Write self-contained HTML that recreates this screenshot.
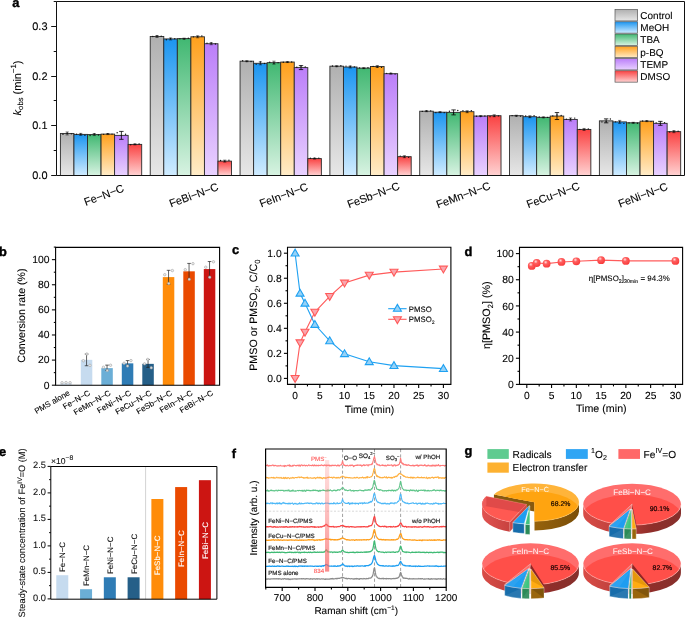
<!DOCTYPE html>
<html lang="en">
<head>
<meta charset="utf-8">
<title>Figure</title>
<style>
html,body{margin:0;padding:0;background:#fff;}
body{width:685px;height:617px;overflow:hidden;}
svg{display:block;font-family:'Liberation Sans', sans-serif;text-rendering:geometricPrecision;}
</style>
</head>
<body>
<svg width="685" height="617" viewBox="0 0 685 617">
<defs>
<linearGradient id="g_gray" x1="0" y1="0" x2="0" y2="1"><stop offset="0" stop-color="#b0b0b0"/><stop offset="1" stop-color="#e7e7e7"/></linearGradient>
<linearGradient id="g_blue" x1="0" y1="0" x2="0" y2="1"><stop offset="0" stop-color="#1b95f0"/><stop offset="1" stop-color="#d0ecff"/></linearGradient>
<linearGradient id="g_green" x1="0" y1="0" x2="0" y2="1"><stop offset="0" stop-color="#41b872"/><stop offset="1" stop-color="#d8f3e2"/></linearGradient>
<linearGradient id="g_orange" x1="0" y1="0" x2="0" y2="1"><stop offset="0" stop-color="#ffa01c"/><stop offset="1" stop-color="#ffecc8"/></linearGradient>
<linearGradient id="g_purple" x1="0" y1="0" x2="0" y2="1"><stop offset="0" stop-color="#bb7ef9"/><stop offset="1" stop-color="#e9d2ff"/></linearGradient>
<linearGradient id="g_red" x1="0" y1="0" x2="0" y2="1"><stop offset="0" stop-color="#fa4242"/><stop offset="1" stop-color="#ffd2d2"/></linearGradient>
<linearGradient id="g_band" x1="0" y1="0" x2="0" y2="1"><stop offset="0" stop-color="#ff8a8a" stop-opacity="0.25"/><stop offset="1" stop-color="#f76060" stop-opacity="0.72"/></linearGradient>
<radialGradient id="g_ball" cx="0.38" cy="0.32" r="0.7"><stop offset="0" stop-color="#ffdcdc"/><stop offset="0.12" stop-color="#ffb4b4"/><stop offset="0.35" stop-color="#ff5e5e"/><stop offset="1" stop-color="#f83a3a"/></radialGradient>
</defs>
<rect x="60.4" y="133.44" width="13.55" height="42.06" fill="url(#g_gray)" stroke="#2b2b2b" stroke-width="0.9"/>
<rect x="73.95" y="134.38" width="13.55" height="41.12" fill="url(#g_blue)" stroke="#2b2b2b" stroke-width="0.9"/>
<rect x="87.5" y="134.58" width="13.55" height="40.92" fill="url(#g_green)" stroke="#2b2b2b" stroke-width="0.9"/>
<rect x="101.05" y="134.09" width="13.55" height="41.41" fill="url(#g_orange)" stroke="#2b2b2b" stroke-width="0.9"/>
<rect x="114.6" y="135.37" width="13.55" height="40.13" fill="url(#g_purple)" stroke="#2b2b2b" stroke-width="0.9"/>
<rect x="128.15" y="144.39" width="13.55" height="31.11" fill="url(#g_red)" stroke="#2b2b2b" stroke-width="0.9"/>
<line x1="67.17" y1="131.96" x2="67.17" y2="134.93" stroke="#000" stroke-width="0.6"/>
<line x1="65.58" y1="131.96" x2="68.77" y2="131.96" stroke="#000" stroke-width="0.5"/>
<line x1="65.58" y1="134.93" x2="68.77" y2="134.93" stroke="#000" stroke-width="0.5"/>
<circle cx="62.97" cy="134.22" r="0.7" fill="#111"/>
<circle cx="67.17" cy="133.31" r="0.7" fill="#111"/>
<circle cx="71.38" cy="133.83" r="0.7" fill="#111"/>
<line x1="80.73" y1="133.39" x2="80.73" y2="135.37" stroke="#000" stroke-width="0.6"/>
<line x1="79.13" y1="133.39" x2="82.33" y2="133.39" stroke="#000" stroke-width="0.5"/>
<line x1="79.13" y1="135.37" x2="82.33" y2="135.37" stroke="#000" stroke-width="0.5"/>
<circle cx="76.53" cy="134.18" r="0.7" fill="#111"/>
<circle cx="80.73" cy="134.13" r="0.7" fill="#111"/>
<circle cx="84.93" cy="135.24" r="0.7" fill="#111"/>
<line x1="94.28" y1="133.59" x2="94.28" y2="135.57" stroke="#000" stroke-width="0.6"/>
<line x1="92.68" y1="133.59" x2="95.88" y2="133.59" stroke="#000" stroke-width="0.5"/>
<line x1="92.68" y1="135.57" x2="95.88" y2="135.57" stroke="#000" stroke-width="0.5"/>
<circle cx="90.08" cy="135.55" r="0.7" fill="#111"/>
<circle cx="94.28" cy="133.91" r="0.7" fill="#111"/>
<circle cx="98.48" cy="135.06" r="0.7" fill="#111"/>
<line x1="107.83" y1="133.59" x2="107.83" y2="134.58" stroke="#000" stroke-width="0.6"/>
<line x1="106.23" y1="133.59" x2="109.43" y2="133.59" stroke="#000" stroke-width="0.5"/>
<line x1="106.23" y1="134.58" x2="109.43" y2="134.58" stroke="#000" stroke-width="0.5"/>
<circle cx="103.63" cy="134.35" r="0.7" fill="#111"/>
<circle cx="107.83" cy="133.59" r="0.7" fill="#111"/>
<circle cx="112.03" cy="134.11" r="0.7" fill="#111"/>
<line x1="121.38" y1="131.41" x2="121.38" y2="139.34" stroke="#000" stroke-width="0.8"/>
<line x1="119.17" y1="131.41" x2="123.58" y2="131.41" stroke="#000" stroke-width="0.8"/>
<line x1="119.17" y1="139.34" x2="123.58" y2="139.34" stroke="#000" stroke-width="0.8"/>
<circle cx="117.17" cy="132.71" r="0.7" fill="#111"/>
<circle cx="121.38" cy="135.56" r="0.7" fill="#111"/>
<circle cx="125.58" cy="134.27" r="0.7" fill="#111"/>
<line x1="134.93" y1="143.89" x2="134.93" y2="144.88" stroke="#000" stroke-width="0.6"/>
<line x1="133.33" y1="143.89" x2="136.53" y2="143.89" stroke="#000" stroke-width="0.5"/>
<line x1="133.33" y1="144.88" x2="136.53" y2="144.88" stroke="#000" stroke-width="0.5"/>
<circle cx="130.73" cy="144.73" r="0.7" fill="#111"/>
<circle cx="134.93" cy="144.25" r="0.7" fill="#111"/>
<circle cx="139.12" cy="144.02" r="0.7" fill="#111"/>
<rect x="150.23" y="36.5" width="13.55" height="139" fill="url(#g_gray)" stroke="#2b2b2b" stroke-width="0.9"/>
<rect x="163.78" y="38.93" width="13.55" height="136.57" fill="url(#g_blue)" stroke="#2b2b2b" stroke-width="0.9"/>
<rect x="177.33" y="38.63" width="13.55" height="136.87" fill="url(#g_green)" stroke="#2b2b2b" stroke-width="0.9"/>
<rect x="190.88" y="36.8" width="13.55" height="138.7" fill="url(#g_orange)" stroke="#2b2b2b" stroke-width="0.9"/>
<rect x="204.43" y="43.74" width="13.55" height="131.76" fill="url(#g_purple)" stroke="#2b2b2b" stroke-width="0.9"/>
<rect x="217.98" y="161.13" width="13.55" height="14.37" fill="url(#g_red)" stroke="#2b2b2b" stroke-width="0.9"/>
<line x1="157" y1="35.51" x2="157" y2="37.5" stroke="#000" stroke-width="0.6"/>
<line x1="155.41" y1="35.51" x2="158.6" y2="35.51" stroke="#000" stroke-width="0.5"/>
<line x1="155.41" y1="37.5" x2="158.6" y2="37.5" stroke="#000" stroke-width="0.5"/>
<circle cx="152.81" cy="36.46" r="0.7" fill="#111"/>
<circle cx="157" cy="36.03" r="0.7" fill="#111"/>
<circle cx="161.2" cy="36.17" r="0.7" fill="#111"/>
<line x1="170.56" y1="37.94" x2="170.56" y2="39.92" stroke="#000" stroke-width="0.6"/>
<line x1="168.96" y1="37.94" x2="172.16" y2="37.94" stroke="#000" stroke-width="0.5"/>
<line x1="168.96" y1="39.92" x2="172.16" y2="39.92" stroke="#000" stroke-width="0.5"/>
<circle cx="166.36" cy="39.8" r="0.7" fill="#111"/>
<circle cx="170.56" cy="38.42" r="0.7" fill="#111"/>
<circle cx="174.75" cy="38.75" r="0.7" fill="#111"/>
<line x1="184.1" y1="38.14" x2="184.1" y2="39.13" stroke="#000" stroke-width="0.6"/>
<line x1="182.5" y1="38.14" x2="185.7" y2="38.14" stroke="#000" stroke-width="0.5"/>
<line x1="182.5" y1="39.13" x2="185.7" y2="39.13" stroke="#000" stroke-width="0.5"/>
<circle cx="179.91" cy="38.83" r="0.7" fill="#111"/>
<circle cx="184.1" cy="39.1" r="0.7" fill="#111"/>
<circle cx="188.3" cy="38.27" r="0.7" fill="#111"/>
<line x1="197.66" y1="35.81" x2="197.66" y2="37.79" stroke="#000" stroke-width="0.6"/>
<line x1="196.06" y1="35.81" x2="199.25" y2="35.81" stroke="#000" stroke-width="0.5"/>
<line x1="196.06" y1="37.79" x2="199.25" y2="37.79" stroke="#000" stroke-width="0.5"/>
<circle cx="193.46" cy="36.86" r="0.7" fill="#111"/>
<circle cx="197.66" cy="36.37" r="0.7" fill="#111"/>
<circle cx="201.85" cy="36.05" r="0.7" fill="#111"/>
<line x1="211.21" y1="42.75" x2="211.21" y2="44.73" stroke="#000" stroke-width="0.6"/>
<line x1="209.61" y1="42.75" x2="212.81" y2="42.75" stroke="#000" stroke-width="0.5"/>
<line x1="209.61" y1="44.73" x2="212.81" y2="44.73" stroke="#000" stroke-width="0.5"/>
<circle cx="207.01" cy="43.31" r="0.7" fill="#111"/>
<circle cx="211.21" cy="42.9" r="0.7" fill="#111"/>
<circle cx="215.41" cy="43.94" r="0.7" fill="#111"/>
<line x1="224.75" y1="160.14" x2="224.75" y2="162.12" stroke="#000" stroke-width="0.6"/>
<line x1="223.16" y1="160.14" x2="226.35" y2="160.14" stroke="#000" stroke-width="0.5"/>
<line x1="223.16" y1="162.12" x2="226.35" y2="162.12" stroke="#000" stroke-width="0.5"/>
<circle cx="220.56" cy="160.53" r="0.7" fill="#111"/>
<circle cx="224.75" cy="161.24" r="0.7" fill="#111"/>
<circle cx="228.95" cy="160.27" r="0.7" fill="#111"/>
<rect x="240.06" y="61.17" width="13.55" height="114.33" fill="url(#g_gray)" stroke="#2b2b2b" stroke-width="0.9"/>
<rect x="253.61" y="63.3" width="13.55" height="112.2" fill="url(#g_blue)" stroke="#2b2b2b" stroke-width="0.9"/>
<rect x="267.16" y="62.66" width="13.55" height="112.84" fill="url(#g_green)" stroke="#2b2b2b" stroke-width="0.9"/>
<rect x="280.71" y="62.06" width="13.55" height="113.44" fill="url(#g_orange)" stroke="#2b2b2b" stroke-width="0.9"/>
<rect x="294.26" y="67.61" width="13.55" height="107.89" fill="url(#g_purple)" stroke="#2b2b2b" stroke-width="0.9"/>
<rect x="307.81" y="158.6" width="13.55" height="16.9" fill="url(#g_red)" stroke="#2b2b2b" stroke-width="0.9"/>
<line x1="246.84" y1="60.68" x2="246.84" y2="61.67" stroke="#000" stroke-width="0.6"/>
<line x1="245.24" y1="60.68" x2="248.44" y2="60.68" stroke="#000" stroke-width="0.5"/>
<line x1="245.24" y1="61.67" x2="248.44" y2="61.67" stroke="#000" stroke-width="0.5"/>
<circle cx="242.64" cy="60.8" r="0.7" fill="#111"/>
<circle cx="246.84" cy="61.57" r="0.7" fill="#111"/>
<circle cx="251.03" cy="61.53" r="0.7" fill="#111"/>
<line x1="260.38" y1="61.82" x2="260.38" y2="64.79" stroke="#000" stroke-width="0.6"/>
<line x1="258.78" y1="61.82" x2="261.99" y2="61.82" stroke="#000" stroke-width="0.5"/>
<line x1="258.78" y1="64.79" x2="261.99" y2="64.79" stroke="#000" stroke-width="0.5"/>
<circle cx="256.19" cy="64.14" r="0.7" fill="#111"/>
<circle cx="260.38" cy="61.92" r="0.7" fill="#111"/>
<circle cx="264.58" cy="63.49" r="0.7" fill="#111"/>
<line x1="273.94" y1="61.17" x2="273.94" y2="64.14" stroke="#000" stroke-width="0.6"/>
<line x1="272.33" y1="61.17" x2="275.54" y2="61.17" stroke="#000" stroke-width="0.5"/>
<line x1="272.33" y1="64.14" x2="275.54" y2="64.14" stroke="#000" stroke-width="0.5"/>
<circle cx="269.74" cy="62.28" r="0.7" fill="#111"/>
<circle cx="273.94" cy="63.25" r="0.7" fill="#111"/>
<circle cx="278.13" cy="62.64" r="0.7" fill="#111"/>
<line x1="287.49" y1="61.57" x2="287.49" y2="62.56" stroke="#000" stroke-width="0.6"/>
<line x1="285.88" y1="61.57" x2="289.09" y2="61.57" stroke="#000" stroke-width="0.5"/>
<line x1="285.88" y1="62.56" x2="289.09" y2="62.56" stroke="#000" stroke-width="0.5"/>
<circle cx="283.29" cy="62.18" r="0.7" fill="#111"/>
<circle cx="287.49" cy="62.21" r="0.7" fill="#111"/>
<circle cx="291.69" cy="61.98" r="0.7" fill="#111"/>
<line x1="301.03" y1="65.63" x2="301.03" y2="69.59" stroke="#000" stroke-width="0.8"/>
<line x1="298.83" y1="65.63" x2="303.23" y2="65.63" stroke="#000" stroke-width="0.8"/>
<line x1="298.83" y1="69.59" x2="303.23" y2="69.59" stroke="#000" stroke-width="0.8"/>
<circle cx="296.83" cy="67.28" r="0.7" fill="#111"/>
<circle cx="301.03" cy="66.01" r="0.7" fill="#111"/>
<circle cx="305.23" cy="66.89" r="0.7" fill="#111"/>
<line x1="314.58" y1="158.11" x2="314.58" y2="159.1" stroke="#000" stroke-width="0.6"/>
<line x1="312.98" y1="158.11" x2="316.19" y2="158.11" stroke="#000" stroke-width="0.5"/>
<line x1="312.98" y1="159.1" x2="316.19" y2="159.1" stroke="#000" stroke-width="0.5"/>
<circle cx="310.38" cy="158.18" r="0.7" fill="#111"/>
<circle cx="314.58" cy="158.25" r="0.7" fill="#111"/>
<circle cx="318.78" cy="158.12" r="0.7" fill="#111"/>
<rect x="329.89" y="66.18" width="13.55" height="109.32" fill="url(#g_gray)" stroke="#2b2b2b" stroke-width="0.9"/>
<rect x="343.44" y="67.02" width="13.55" height="108.48" fill="url(#g_blue)" stroke="#2b2b2b" stroke-width="0.9"/>
<rect x="356.99" y="68.11" width="13.55" height="107.39" fill="url(#g_green)" stroke="#2b2b2b" stroke-width="0.9"/>
<rect x="370.54" y="66.52" width="13.55" height="108.98" fill="url(#g_orange)" stroke="#2b2b2b" stroke-width="0.9"/>
<rect x="384.09" y="73.7" width="13.55" height="101.8" fill="url(#g_purple)" stroke="#2b2b2b" stroke-width="0.9"/>
<rect x="397.64" y="156.67" width="13.55" height="18.83" fill="url(#g_red)" stroke="#2b2b2b" stroke-width="0.9"/>
<line x1="336.66" y1="65.68" x2="336.66" y2="66.67" stroke="#000" stroke-width="0.6"/>
<line x1="335.06" y1="65.68" x2="338.26" y2="65.68" stroke="#000" stroke-width="0.5"/>
<line x1="335.06" y1="66.67" x2="338.26" y2="66.67" stroke="#000" stroke-width="0.5"/>
<circle cx="332.46" cy="66.01" r="0.7" fill="#111"/>
<circle cx="336.66" cy="66.51" r="0.7" fill="#111"/>
<circle cx="340.86" cy="65.82" r="0.7" fill="#111"/>
<line x1="350.21" y1="66.03" x2="350.21" y2="68.01" stroke="#000" stroke-width="0.6"/>
<line x1="348.61" y1="66.03" x2="351.81" y2="66.03" stroke="#000" stroke-width="0.5"/>
<line x1="348.61" y1="68.01" x2="351.81" y2="68.01" stroke="#000" stroke-width="0.5"/>
<circle cx="346.01" cy="66.1" r="0.7" fill="#111"/>
<circle cx="350.21" cy="66.22" r="0.7" fill="#111"/>
<circle cx="354.41" cy="66.88" r="0.7" fill="#111"/>
<line x1="363.76" y1="67.61" x2="363.76" y2="68.6" stroke="#000" stroke-width="0.6"/>
<line x1="362.16" y1="67.61" x2="365.37" y2="67.61" stroke="#000" stroke-width="0.5"/>
<line x1="362.16" y1="68.6" x2="365.37" y2="68.6" stroke="#000" stroke-width="0.5"/>
<circle cx="359.56" cy="67.9" r="0.7" fill="#111"/>
<circle cx="363.76" cy="68.39" r="0.7" fill="#111"/>
<circle cx="367.96" cy="67.78" r="0.7" fill="#111"/>
<line x1="377.31" y1="65.53" x2="377.31" y2="67.51" stroke="#000" stroke-width="0.6"/>
<line x1="375.71" y1="65.53" x2="378.91" y2="65.53" stroke="#000" stroke-width="0.5"/>
<line x1="375.71" y1="67.51" x2="378.91" y2="67.51" stroke="#000" stroke-width="0.5"/>
<circle cx="373.11" cy="66.38" r="0.7" fill="#111"/>
<circle cx="377.31" cy="66.95" r="0.7" fill="#111"/>
<circle cx="381.51" cy="67.39" r="0.7" fill="#111"/>
<line x1="390.86" y1="73.21" x2="390.86" y2="74.2" stroke="#000" stroke-width="0.6"/>
<line x1="389.26" y1="73.21" x2="392.46" y2="73.21" stroke="#000" stroke-width="0.5"/>
<line x1="389.26" y1="74.2" x2="392.46" y2="74.2" stroke="#000" stroke-width="0.5"/>
<circle cx="386.66" cy="73.35" r="0.7" fill="#111"/>
<circle cx="390.86" cy="73.22" r="0.7" fill="#111"/>
<circle cx="395.06" cy="74.11" r="0.7" fill="#111"/>
<line x1="404.41" y1="155.68" x2="404.41" y2="157.66" stroke="#000" stroke-width="0.6"/>
<line x1="402.81" y1="155.68" x2="406.01" y2="155.68" stroke="#000" stroke-width="0.5"/>
<line x1="402.81" y1="157.66" x2="406.01" y2="157.66" stroke="#000" stroke-width="0.5"/>
<circle cx="400.21" cy="156.08" r="0.7" fill="#111"/>
<circle cx="404.41" cy="156.85" r="0.7" fill="#111"/>
<circle cx="408.61" cy="157.36" r="0.7" fill="#111"/>
<rect x="419.72" y="111.2" width="13.55" height="64.3" fill="url(#g_gray)" stroke="#2b2b2b" stroke-width="0.9"/>
<rect x="433.27" y="112.19" width="13.55" height="63.31" fill="url(#g_blue)" stroke="#2b2b2b" stroke-width="0.9"/>
<rect x="446.82" y="112.39" width="13.55" height="63.11" fill="url(#g_green)" stroke="#2b2b2b" stroke-width="0.9"/>
<rect x="460.37" y="111.7" width="13.55" height="63.8" fill="url(#g_orange)" stroke="#2b2b2b" stroke-width="0.9"/>
<rect x="473.92" y="116.06" width="13.55" height="59.44" fill="url(#g_purple)" stroke="#2b2b2b" stroke-width="0.9"/>
<rect x="487.47" y="115.71" width="13.55" height="59.79" fill="url(#g_red)" stroke="#2b2b2b" stroke-width="0.9"/>
<line x1="426.49" y1="110.71" x2="426.49" y2="111.7" stroke="#000" stroke-width="0.6"/>
<line x1="424.89" y1="110.71" x2="428.09" y2="110.71" stroke="#000" stroke-width="0.5"/>
<line x1="424.89" y1="111.7" x2="428.09" y2="111.7" stroke="#000" stroke-width="0.5"/>
<circle cx="422.29" cy="111.41" r="0.7" fill="#111"/>
<circle cx="426.49" cy="110.93" r="0.7" fill="#111"/>
<circle cx="430.69" cy="110.83" r="0.7" fill="#111"/>
<line x1="440.04" y1="111.7" x2="440.04" y2="112.69" stroke="#000" stroke-width="0.6"/>
<line x1="438.44" y1="111.7" x2="441.64" y2="111.7" stroke="#000" stroke-width="0.5"/>
<line x1="438.44" y1="112.69" x2="441.64" y2="112.69" stroke="#000" stroke-width="0.5"/>
<circle cx="435.84" cy="112.64" r="0.7" fill="#111"/>
<circle cx="440.04" cy="112.08" r="0.7" fill="#111"/>
<circle cx="444.24" cy="112.64" r="0.7" fill="#111"/>
<line x1="453.59" y1="109.91" x2="453.59" y2="114.87" stroke="#000" stroke-width="0.8"/>
<line x1="451.39" y1="109.91" x2="455.79" y2="109.91" stroke="#000" stroke-width="0.8"/>
<line x1="451.39" y1="114.87" x2="455.79" y2="114.87" stroke="#000" stroke-width="0.8"/>
<circle cx="449.39" cy="111.31" r="0.7" fill="#111"/>
<circle cx="453.59" cy="113.23" r="0.7" fill="#111"/>
<circle cx="457.79" cy="110.5" r="0.7" fill="#111"/>
<line x1="467.14" y1="110.71" x2="467.14" y2="112.69" stroke="#000" stroke-width="0.6"/>
<line x1="465.54" y1="110.71" x2="468.75" y2="110.71" stroke="#000" stroke-width="0.5"/>
<line x1="465.54" y1="112.69" x2="468.75" y2="112.69" stroke="#000" stroke-width="0.5"/>
<circle cx="462.94" cy="110.74" r="0.7" fill="#111"/>
<circle cx="467.14" cy="111.69" r="0.7" fill="#111"/>
<circle cx="471.34" cy="110.71" r="0.7" fill="#111"/>
<line x1="480.69" y1="115.56" x2="480.69" y2="116.55" stroke="#000" stroke-width="0.6"/>
<line x1="479.09" y1="115.56" x2="482.29" y2="115.56" stroke="#000" stroke-width="0.5"/>
<line x1="479.09" y1="116.55" x2="482.29" y2="116.55" stroke="#000" stroke-width="0.5"/>
<circle cx="476.49" cy="116.24" r="0.7" fill="#111"/>
<circle cx="480.69" cy="116.47" r="0.7" fill="#111"/>
<circle cx="484.89" cy="115.96" r="0.7" fill="#111"/>
<line x1="494.24" y1="114.72" x2="494.24" y2="116.7" stroke="#000" stroke-width="0.6"/>
<line x1="492.64" y1="114.72" x2="495.84" y2="114.72" stroke="#000" stroke-width="0.5"/>
<line x1="492.64" y1="116.7" x2="495.84" y2="116.7" stroke="#000" stroke-width="0.5"/>
<circle cx="490.04" cy="116.64" r="0.7" fill="#111"/>
<circle cx="494.24" cy="116.31" r="0.7" fill="#111"/>
<circle cx="498.44" cy="115.89" r="0.7" fill="#111"/>
<rect x="509.55" y="115.71" width="13.55" height="59.79" fill="url(#g_gray)" stroke="#2b2b2b" stroke-width="0.9"/>
<rect x="523.1" y="116.7" width="13.55" height="58.8" fill="url(#g_blue)" stroke="#2b2b2b" stroke-width="0.9"/>
<rect x="536.65" y="117.34" width="13.55" height="58.16" fill="url(#g_green)" stroke="#2b2b2b" stroke-width="0.9"/>
<rect x="550.2" y="116.06" width="13.55" height="59.44" fill="url(#g_orange)" stroke="#2b2b2b" stroke-width="0.9"/>
<rect x="563.75" y="119.42" width="13.55" height="56.08" fill="url(#g_purple)" stroke="#2b2b2b" stroke-width="0.9"/>
<rect x="577.3" y="129.43" width="13.55" height="46.07" fill="url(#g_red)" stroke="#2b2b2b" stroke-width="0.9"/>
<line x1="516.32" y1="115.21" x2="516.32" y2="116.2" stroke="#000" stroke-width="0.6"/>
<line x1="514.72" y1="115.21" x2="517.92" y2="115.21" stroke="#000" stroke-width="0.5"/>
<line x1="514.72" y1="116.2" x2="517.92" y2="116.2" stroke="#000" stroke-width="0.5"/>
<circle cx="512.12" cy="115.6" r="0.7" fill="#111"/>
<circle cx="516.32" cy="116.05" r="0.7" fill="#111"/>
<circle cx="520.52" cy="116.16" r="0.7" fill="#111"/>
<line x1="529.87" y1="115.71" x2="529.87" y2="117.69" stroke="#000" stroke-width="0.6"/>
<line x1="528.27" y1="115.71" x2="531.47" y2="115.71" stroke="#000" stroke-width="0.5"/>
<line x1="528.27" y1="117.69" x2="531.47" y2="117.69" stroke="#000" stroke-width="0.5"/>
<circle cx="525.67" cy="115.97" r="0.7" fill="#111"/>
<circle cx="529.87" cy="117.07" r="0.7" fill="#111"/>
<circle cx="534.07" cy="115.79" r="0.7" fill="#111"/>
<line x1="543.42" y1="116.85" x2="543.42" y2="117.84" stroke="#000" stroke-width="0.6"/>
<line x1="541.82" y1="116.85" x2="545.02" y2="116.85" stroke="#000" stroke-width="0.5"/>
<line x1="541.82" y1="117.84" x2="545.02" y2="117.84" stroke="#000" stroke-width="0.5"/>
<circle cx="539.22" cy="116.95" r="0.7" fill="#111"/>
<circle cx="543.42" cy="117.46" r="0.7" fill="#111"/>
<circle cx="547.62" cy="117.38" r="0.7" fill="#111"/>
<line x1="556.97" y1="112.59" x2="556.97" y2="119.52" stroke="#000" stroke-width="0.8"/>
<line x1="554.77" y1="112.59" x2="559.17" y2="112.59" stroke="#000" stroke-width="0.8"/>
<line x1="554.77" y1="119.52" x2="559.17" y2="119.52" stroke="#000" stroke-width="0.8"/>
<circle cx="552.77" cy="115.92" r="0.7" fill="#111"/>
<circle cx="556.97" cy="115.06" r="0.7" fill="#111"/>
<circle cx="561.17" cy="115.39" r="0.7" fill="#111"/>
<line x1="570.52" y1="117.94" x2="570.52" y2="120.91" stroke="#000" stroke-width="0.6"/>
<line x1="568.92" y1="117.94" x2="572.12" y2="117.94" stroke="#000" stroke-width="0.5"/>
<line x1="568.92" y1="120.91" x2="572.12" y2="120.91" stroke="#000" stroke-width="0.5"/>
<circle cx="566.32" cy="119.25" r="0.7" fill="#111"/>
<circle cx="570.52" cy="119.07" r="0.7" fill="#111"/>
<circle cx="574.73" cy="118.11" r="0.7" fill="#111"/>
<line x1="584.07" y1="128.44" x2="584.07" y2="130.42" stroke="#000" stroke-width="0.6"/>
<line x1="582.47" y1="128.44" x2="585.67" y2="128.44" stroke="#000" stroke-width="0.5"/>
<line x1="582.47" y1="130.42" x2="585.67" y2="130.42" stroke="#000" stroke-width="0.5"/>
<circle cx="579.87" cy="129.42" r="0.7" fill="#111"/>
<circle cx="584.07" cy="129.57" r="0.7" fill="#111"/>
<circle cx="588.27" cy="128.99" r="0.7" fill="#111"/>
<rect x="599.38" y="120.86" width="13.55" height="54.64" fill="url(#g_gray)" stroke="#2b2b2b" stroke-width="0.9"/>
<rect x="612.93" y="121.9" width="13.55" height="53.6" fill="url(#g_blue)" stroke="#2b2b2b" stroke-width="0.9"/>
<rect x="626.48" y="122.79" width="13.55" height="52.71" fill="url(#g_green)" stroke="#2b2b2b" stroke-width="0.9"/>
<rect x="640.03" y="121.16" width="13.55" height="54.34" fill="url(#g_orange)" stroke="#2b2b2b" stroke-width="0.9"/>
<rect x="653.58" y="123.34" width="13.55" height="52.16" fill="url(#g_purple)" stroke="#2b2b2b" stroke-width="0.9"/>
<rect x="667.13" y="131.66" width="13.55" height="43.84" fill="url(#g_red)" stroke="#2b2b2b" stroke-width="0.9"/>
<line x1="606.15" y1="118.88" x2="606.15" y2="122.84" stroke="#000" stroke-width="0.8"/>
<line x1="603.95" y1="118.88" x2="608.36" y2="118.88" stroke="#000" stroke-width="0.8"/>
<line x1="603.95" y1="122.84" x2="608.36" y2="122.84" stroke="#000" stroke-width="0.8"/>
<circle cx="601.95" cy="121.9" r="0.7" fill="#111"/>
<circle cx="606.15" cy="121.65" r="0.7" fill="#111"/>
<circle cx="610.36" cy="118.97" r="0.7" fill="#111"/>
<line x1="619.7" y1="120.41" x2="619.7" y2="123.39" stroke="#000" stroke-width="0.6"/>
<line x1="618.1" y1="120.41" x2="621.3" y2="120.41" stroke="#000" stroke-width="0.5"/>
<line x1="618.1" y1="123.39" x2="621.3" y2="123.39" stroke="#000" stroke-width="0.5"/>
<circle cx="615.5" cy="121.84" r="0.7" fill="#111"/>
<circle cx="619.7" cy="121.76" r="0.7" fill="#111"/>
<circle cx="623.9" cy="123.35" r="0.7" fill="#111"/>
<line x1="633.25" y1="122.3" x2="633.25" y2="123.29" stroke="#000" stroke-width="0.6"/>
<line x1="631.65" y1="122.3" x2="634.86" y2="122.3" stroke="#000" stroke-width="0.5"/>
<line x1="631.65" y1="123.29" x2="634.86" y2="123.29" stroke="#000" stroke-width="0.5"/>
<circle cx="629.05" cy="122.88" r="0.7" fill="#111"/>
<circle cx="633.25" cy="122.71" r="0.7" fill="#111"/>
<circle cx="637.46" cy="123.27" r="0.7" fill="#111"/>
<line x1="646.8" y1="120.66" x2="646.8" y2="121.65" stroke="#000" stroke-width="0.6"/>
<line x1="645.2" y1="120.66" x2="648.4" y2="120.66" stroke="#000" stroke-width="0.5"/>
<line x1="645.2" y1="121.65" x2="648.4" y2="121.65" stroke="#000" stroke-width="0.5"/>
<circle cx="642.6" cy="121.04" r="0.7" fill="#111"/>
<circle cx="646.8" cy="121.03" r="0.7" fill="#111"/>
<circle cx="651" cy="121.59" r="0.7" fill="#111"/>
<line x1="660.36" y1="121.36" x2="660.36" y2="125.32" stroke="#000" stroke-width="0.8"/>
<line x1="658.15" y1="121.36" x2="662.56" y2="121.36" stroke="#000" stroke-width="0.8"/>
<line x1="658.15" y1="125.32" x2="662.56" y2="125.32" stroke="#000" stroke-width="0.8"/>
<circle cx="656.15" cy="122.83" r="0.7" fill="#111"/>
<circle cx="660.36" cy="123.47" r="0.7" fill="#111"/>
<circle cx="664.56" cy="122.63" r="0.7" fill="#111"/>
<line x1="673.9" y1="130.67" x2="673.9" y2="132.65" stroke="#000" stroke-width="0.6"/>
<line x1="672.3" y1="130.67" x2="675.5" y2="130.67" stroke="#000" stroke-width="0.5"/>
<line x1="672.3" y1="132.65" x2="675.5" y2="132.65" stroke="#000" stroke-width="0.5"/>
<circle cx="669.7" cy="131.95" r="0.7" fill="#111"/>
<circle cx="673.9" cy="131.25" r="0.7" fill="#111"/>
<circle cx="678.11" cy="131.19" r="0.7" fill="#111"/>
<path d="M56.5 1.5 H684.5 V175.5 H56.5 Z" fill="none" stroke="#111" stroke-width="1"/>
<line x1="51.2" y1="175.5" x2="56.5" y2="175.5" stroke="#111" stroke-width="1"/>
<text transform="translate(47.5 179.3) skewX(0.06) scale(0.1 0.1)" font-size="110" text-anchor="end" fill="#000" stroke="#000" stroke-width="1">0.0</text>
<line x1="51.2" y1="125.5" x2="56.5" y2="125.5" stroke="#111" stroke-width="1"/>
<text transform="translate(47.5 129.3) skewX(0.06) scale(0.1 0.1)" font-size="110" text-anchor="end" fill="#000" stroke="#000" stroke-width="1">0.1</text>
<line x1="51.2" y1="76.5" x2="56.5" y2="76.5" stroke="#111" stroke-width="1"/>
<text transform="translate(47.5 80.3) skewX(0.06) scale(0.1 0.1)" font-size="110" text-anchor="end" fill="#000" stroke="#000" stroke-width="1">0.2</text>
<line x1="51.2" y1="26.5" x2="56.5" y2="26.5" stroke="#111" stroke-width="1"/>
<text transform="translate(47.5 30.3) skewX(0.06) scale(0.1 0.1)" font-size="110" text-anchor="end" fill="#000" stroke="#000" stroke-width="1">0.3</text>
<line x1="53.7" y1="150.5" x2="56.5" y2="150.5" stroke="#111" stroke-width="1"/>
<line x1="53.7" y1="100.5" x2="56.5" y2="100.5" stroke="#111" stroke-width="1"/>
<line x1="53.7" y1="51.5" x2="56.5" y2="51.5" stroke="#111" stroke-width="1"/>
<line x1="53.7" y1="1.5" x2="56.5" y2="1.5" stroke="#111" stroke-width="1"/>
<text transform="translate(20.6 88) rotate(-90) skewX(0.06) scale(0.1 0.1)" font-size="110" text-anchor="middle" fill="#000" stroke="#000" stroke-width="1"><tspan font-style="italic">k</tspan><tspan dy="24.2" font-size="77">obs</tspan><tspan dy="-24.2"> (min</tspan><tspan dy="-44" font-size="77">−1</tspan><tspan dy="44">)</tspan></text>
<text transform="translate(105.25 198.6) rotate(-20.5) skewX(0.06) scale(0.1 0.1)" font-size="110" text-anchor="middle" fill="#000" stroke="#000" stroke-width="1">Fe−N−C</text>
<text transform="translate(195.08 198.6) rotate(-20.5) skewX(0.06) scale(0.1 0.1)" font-size="110" text-anchor="middle" fill="#000" stroke="#000" stroke-width="1">FeBi−N−C</text>
<text transform="translate(284.91 198.6) rotate(-20.5) skewX(0.06) scale(0.1 0.1)" font-size="110" text-anchor="middle" fill="#000" stroke="#000" stroke-width="1">FeIn−N−C</text>
<text transform="translate(374.74 198.6) rotate(-20.5) skewX(0.06) scale(0.1 0.1)" font-size="110" text-anchor="middle" fill="#000" stroke="#000" stroke-width="1">FeSb−N−C</text>
<text transform="translate(464.57 198.6) rotate(-20.5) skewX(0.06) scale(0.1 0.1)" font-size="110" text-anchor="middle" fill="#000" stroke="#000" stroke-width="1">FeMn−N−C</text>
<text transform="translate(554.4 198.6) rotate(-20.5) skewX(0.06) scale(0.1 0.1)" font-size="110" text-anchor="middle" fill="#000" stroke="#000" stroke-width="1">FeCu−N−C</text>
<text transform="translate(644.23 198.6) rotate(-20.5) skewX(0.06) scale(0.1 0.1)" font-size="110" text-anchor="middle" fill="#000" stroke="#000" stroke-width="1">FeNi−N−C</text>
<rect x="615" y="9.5" width="22.6" height="11.4" fill="url(#g_gray)" stroke="#555" stroke-width="0.7"/>
<text transform="translate(640.3 18.8) skewX(0.06) scale(0.1 0.1)" font-size="100" text-anchor="start" fill="#000" stroke="#000" stroke-width="1">Control</text>
<rect x="615" y="21.75" width="22.6" height="11.4" fill="url(#g_blue)" stroke="#555" stroke-width="0.7"/>
<text transform="translate(640.3 31.05) skewX(0.06) scale(0.1 0.1)" font-size="100" text-anchor="start" fill="#000" stroke="#000" stroke-width="1">MeOH</text>
<rect x="615" y="34" width="22.6" height="11.4" fill="url(#g_green)" stroke="#555" stroke-width="0.7"/>
<text transform="translate(640.3 43.3) skewX(0.06) scale(0.1 0.1)" font-size="100" text-anchor="start" fill="#000" stroke="#000" stroke-width="1">TBA</text>
<rect x="615" y="46.25" width="22.6" height="11.4" fill="url(#g_orange)" stroke="#555" stroke-width="0.7"/>
<text transform="translate(640.3 55.55) skewX(0.06) scale(0.1 0.1)" font-size="100" text-anchor="start" fill="#000" stroke="#000" stroke-width="1">p-BQ</text>
<rect x="615" y="58.5" width="22.6" height="11.4" fill="url(#g_purple)" stroke="#555" stroke-width="0.7"/>
<text transform="translate(640.3 67.8) skewX(0.06) scale(0.1 0.1)" font-size="100" text-anchor="start" fill="#000" stroke="#000" stroke-width="1">TEMP</text>
<rect x="615" y="70.75" width="22.6" height="11.4" fill="url(#g_red)" stroke="#555" stroke-width="0.7"/>
<text transform="translate(640.3 80.05) skewX(0.06) scale(0.1 0.1)" font-size="100" text-anchor="start" fill="#000" stroke="#000" stroke-width="1">DMSO</text>
<text transform="translate(12.2 7) skewX(0.06) scale(0.1 0.1)" font-size="129" text-anchor="start" font-weight="bold" fill="#000" stroke="#000" stroke-width="4">a</text>
<rect x="60.3" y="382.94" width="11.5" height="2.26" fill="#dce9f6" stroke="none" stroke-width="1"/>
<circle cx="62.05" cy="382.69" r="1.25" fill="#ececec" fill-opacity="0.9" stroke="#9c9c9c" stroke-width="0.55"/>
<circle cx="66.05" cy="382.56" r="1.25" fill="#ececec" fill-opacity="0.9" stroke="#9c9c9c" stroke-width="0.55"/>
<circle cx="70.05" cy="382.69" r="1.25" fill="#ececec" fill-opacity="0.9" stroke="#9c9c9c" stroke-width="0.55"/>
<rect x="80.8" y="359.84" width="11.5" height="25.36" fill="#c6dbef" stroke="none" stroke-width="1"/>
<line x1="86.55" y1="354.06" x2="86.55" y2="365.74" stroke="#222" stroke-width="0.7"/>
<line x1="84.75" y1="354.06" x2="88.35" y2="354.06" stroke="#222" stroke-width="0.7"/>
<line x1="84.75" y1="365.74" x2="88.35" y2="365.74" stroke="#222" stroke-width="0.7"/>
<circle cx="83.35" cy="360.72" r="1.25" fill="#ececec" fill-opacity="0.9" stroke="#9c9c9c" stroke-width="0.55"/>
<circle cx="86.85" cy="354.06" r="1.25" fill="#ececec" fill-opacity="0.9" stroke="#9c9c9c" stroke-width="0.55"/>
<circle cx="89.95" cy="365.36" r="1.25" fill="#ececec" fill-opacity="0.9" stroke="#9c9c9c" stroke-width="0.55"/>
<rect x="101.3" y="368.13" width="11.5" height="17.07" fill="#6baed6" stroke="none" stroke-width="1"/>
<line x1="107.05" y1="365.11" x2="107.05" y2="370.39" stroke="#222" stroke-width="0.7"/>
<line x1="105.25" y1="365.11" x2="108.85" y2="365.11" stroke="#222" stroke-width="0.7"/>
<line x1="105.25" y1="370.39" x2="108.85" y2="370.39" stroke="#222" stroke-width="0.7"/>
<circle cx="103.45" cy="367.25" r="1.25" fill="#ececec" fill-opacity="0.9" stroke="#9c9c9c" stroke-width="0.55"/>
<circle cx="107.25" cy="370.39" r="1.25" fill="#ececec" fill-opacity="0.9" stroke="#9c9c9c" stroke-width="0.55"/>
<circle cx="110.55" cy="365.24" r="1.25" fill="#ececec" fill-opacity="0.9" stroke="#9c9c9c" stroke-width="0.55"/>
<rect x="121.8" y="363.35" width="11.5" height="21.85" fill="#2f7cb5" stroke="none" stroke-width="1"/>
<line x1="127.55" y1="360.59" x2="127.55" y2="365.74" stroke="#222" stroke-width="0.7"/>
<line x1="125.75" y1="360.59" x2="129.35" y2="360.59" stroke="#222" stroke-width="0.7"/>
<line x1="125.75" y1="365.74" x2="129.35" y2="365.74" stroke="#222" stroke-width="0.7"/>
<circle cx="124.05" cy="363.23" r="1.25" fill="#ececec" fill-opacity="0.9" stroke="#9c9c9c" stroke-width="0.55"/>
<circle cx="127.55" cy="365.99" r="1.25" fill="#ececec" fill-opacity="0.9" stroke="#9c9c9c" stroke-width="0.55"/>
<circle cx="130.95" cy="360.59" r="1.25" fill="#ececec" fill-opacity="0.9" stroke="#9c9c9c" stroke-width="0.55"/>
<rect x="142.3" y="363.86" width="11.5" height="21.34" fill="#255f88" stroke="none" stroke-width="1"/>
<line x1="148.05" y1="359.46" x2="148.05" y2="367.37" stroke="#222" stroke-width="0.7"/>
<line x1="146.25" y1="359.46" x2="149.85" y2="359.46" stroke="#222" stroke-width="0.7"/>
<line x1="146.25" y1="367.37" x2="149.85" y2="367.37" stroke="#222" stroke-width="0.7"/>
<circle cx="144.55" cy="363.86" r="1.25" fill="#ececec" fill-opacity="0.9" stroke="#9c9c9c" stroke-width="0.55"/>
<circle cx="147.75" cy="359.46" r="1.25" fill="#ececec" fill-opacity="0.9" stroke="#9c9c9c" stroke-width="0.55"/>
<circle cx="151.25" cy="367.87" r="1.25" fill="#ececec" fill-opacity="0.9" stroke="#9c9c9c" stroke-width="0.55"/>
<rect x="162.8" y="277.1" width="11.5" height="108.1" fill="#ff8c0a" stroke="none" stroke-width="1"/>
<line x1="168.55" y1="270.32" x2="168.55" y2="284.13" stroke="#222" stroke-width="0.7"/>
<line x1="166.75" y1="270.32" x2="170.35" y2="270.32" stroke="#222" stroke-width="0.7"/>
<line x1="166.75" y1="284.13" x2="170.35" y2="284.13" stroke="#222" stroke-width="0.7"/>
<circle cx="164.75" cy="274.72" r="1.25" fill="#ececec" fill-opacity="0.9" stroke="#9c9c9c" stroke-width="0.55"/>
<circle cx="168.75" cy="283.5" r="1.25" fill="#ececec" fill-opacity="0.9" stroke="#9c9c9c" stroke-width="0.55"/>
<circle cx="172.35" cy="270.57" r="1.25" fill="#ececec" fill-opacity="0.9" stroke="#9c9c9c" stroke-width="0.55"/>
<rect x="183.3" y="271.33" width="11.5" height="113.87" fill="#ea4a00" stroke="none" stroke-width="1"/>
<line x1="189.05" y1="263.42" x2="189.05" y2="279.11" stroke="#222" stroke-width="0.7"/>
<line x1="187.25" y1="263.42" x2="190.85" y2="263.42" stroke="#222" stroke-width="0.7"/>
<line x1="187.25" y1="279.11" x2="190.85" y2="279.11" stroke="#222" stroke-width="0.7"/>
<circle cx="185.25" cy="269.69" r="1.25" fill="#ececec" fill-opacity="0.9" stroke="#9c9c9c" stroke-width="0.55"/>
<circle cx="189.25" cy="279.36" r="1.25" fill="#ececec" fill-opacity="0.9" stroke="#9c9c9c" stroke-width="0.55"/>
<circle cx="192.95" cy="263.67" r="1.25" fill="#ececec" fill-opacity="0.9" stroke="#9c9c9c" stroke-width="0.55"/>
<rect x="203.8" y="269.07" width="11.5" height="116.13" fill="#cc1512" stroke="none" stroke-width="1"/>
<line x1="209.55" y1="261.53" x2="209.55" y2="277.23" stroke="#222" stroke-width="0.7"/>
<line x1="207.75" y1="261.53" x2="211.35" y2="261.53" stroke="#222" stroke-width="0.7"/>
<line x1="207.75" y1="277.23" x2="211.35" y2="277.23" stroke="#222" stroke-width="0.7"/>
<circle cx="205.75" cy="267.18" r="1.25" fill="#ececec" fill-opacity="0.9" stroke="#9c9c9c" stroke-width="0.55"/>
<circle cx="209.75" cy="277.23" r="1.25" fill="#ececec" fill-opacity="0.9" stroke="#9c9c9c" stroke-width="0.55"/>
<circle cx="213.45" cy="261.78" r="1.25" fill="#ececec" fill-opacity="0.9" stroke="#9c9c9c" stroke-width="0.55"/>
<path d="M55.6 247.4 H219.6 V385.2 H55.6 Z" fill="none" stroke="#000" stroke-width="1.1"/>
<line x1="51.9" y1="385.2" x2="55.6" y2="385.2" stroke="#000" stroke-width="1.05"/>
<text transform="translate(49.6 388.6) skewX(0.06) scale(0.1 0.1)" font-size="104" text-anchor="end" fill="#000" stroke="#000" stroke-width="1">0</text>
<line x1="51.9" y1="360.09" x2="55.6" y2="360.09" stroke="#000" stroke-width="1.05"/>
<text transform="translate(49.6 363.49) skewX(0.06) scale(0.1 0.1)" font-size="104" text-anchor="end" fill="#000" stroke="#000" stroke-width="1">20</text>
<line x1="51.9" y1="334.98" x2="55.6" y2="334.98" stroke="#000" stroke-width="1.05"/>
<text transform="translate(49.6 338.38) skewX(0.06) scale(0.1 0.1)" font-size="104" text-anchor="end" fill="#000" stroke="#000" stroke-width="1">40</text>
<line x1="51.9" y1="309.87" x2="55.6" y2="309.87" stroke="#000" stroke-width="1.05"/>
<text transform="translate(49.6 313.27) skewX(0.06) scale(0.1 0.1)" font-size="104" text-anchor="end" fill="#000" stroke="#000" stroke-width="1">60</text>
<line x1="51.9" y1="284.76" x2="55.6" y2="284.76" stroke="#000" stroke-width="1.05"/>
<text transform="translate(49.6 288.16) skewX(0.06) scale(0.1 0.1)" font-size="104" text-anchor="end" fill="#000" stroke="#000" stroke-width="1">80</text>
<line x1="51.9" y1="259.65" x2="55.6" y2="259.65" stroke="#000" stroke-width="1.05"/>
<text transform="translate(49.6 263.05) skewX(0.06) scale(0.1 0.1)" font-size="104" text-anchor="end" fill="#000" stroke="#000" stroke-width="1">100</text>
<line x1="53.8" y1="372.64" x2="55.6" y2="372.64" stroke="#000" stroke-width="1.05"/>
<line x1="53.8" y1="347.53" x2="55.6" y2="347.53" stroke="#000" stroke-width="1.05"/>
<line x1="53.8" y1="322.42" x2="55.6" y2="322.42" stroke="#000" stroke-width="1.05"/>
<line x1="53.8" y1="297.31" x2="55.6" y2="297.31" stroke="#000" stroke-width="1.05"/>
<line x1="53.8" y1="272.2" x2="55.6" y2="272.2" stroke="#000" stroke-width="1.05"/>
<line x1="53.8" y1="247.09" x2="55.6" y2="247.09" stroke="#000" stroke-width="1.05"/>
<text transform="translate(24.5 315.6) rotate(-90) skewX(0.06) scale(0.1 0.1)" font-size="106" text-anchor="middle" fill="#000" stroke="#000" stroke-width="1">Conversion rate (%)</text>
<text transform="translate(70.35 394.5) rotate(-30) skewX(0.06) scale(0.1 0.1)" font-size="80" text-anchor="end" fill="#000" stroke="#000" stroke-width="1">PMS alone</text>
<text transform="translate(90.85 394.5) rotate(-30) skewX(0.06) scale(0.1 0.1)" font-size="80" text-anchor="end" fill="#000" stroke="#000" stroke-width="1">Fe−N−C</text>
<text transform="translate(111.35 394.5) rotate(-30) skewX(0.06) scale(0.1 0.1)" font-size="80" text-anchor="end" fill="#000" stroke="#000" stroke-width="1">FeMn−N−C</text>
<text transform="translate(131.85 394.5) rotate(-30) skewX(0.06) scale(0.1 0.1)" font-size="80" text-anchor="end" fill="#000" stroke="#000" stroke-width="1">FeNi−N−C</text>
<text transform="translate(152.35 394.5) rotate(-30) skewX(0.06) scale(0.1 0.1)" font-size="80" text-anchor="end" fill="#000" stroke="#000" stroke-width="1">FeCu−N−C</text>
<text transform="translate(172.85 394.5) rotate(-30) skewX(0.06) scale(0.1 0.1)" font-size="80" text-anchor="end" fill="#000" stroke="#000" stroke-width="1">FeSb−N−C</text>
<text transform="translate(193.35 394.5) rotate(-30) skewX(0.06) scale(0.1 0.1)" font-size="80" text-anchor="end" fill="#000" stroke="#000" stroke-width="1">FeIn−N−C</text>
<text transform="translate(213.85 394.5) rotate(-30) skewX(0.06) scale(0.1 0.1)" font-size="80" text-anchor="end" fill="#000" stroke="#000" stroke-width="1">FeBi−N−C</text>
<text transform="translate(-1.1 255.7) skewX(0.06) scale(0.1 0.1)" font-size="129" text-anchor="start" font-weight="bold" fill="#000" stroke="#000" stroke-width="4">b</text>
<polyline points="295.1,378.4 300.04,342.72 304.99,332.08 314.87,312.04 329.7,296.39 344.53,283 369.25,275.11 393.97,272.11 443.4,268.98" fill="none" stroke="#ff5a5a" stroke-width="1.1"/>
<polyline points="295.1,253.2 300.04,293.26 304.99,303.28 314.87,324.56 329.7,340.84 344.53,353.74 369.25,361.75 393.97,365.63 443.4,368.63" fill="none" stroke="#1ea1f2" stroke-width="1.1"/>
<path d="M291.1 375.55 L299.1 375.55 L295.1 382.4 Z" fill="#f9a6ae" stroke="#ff5a5a" stroke-width="1.1" stroke-linejoin="miter"/>
<path d="M296.04 339.87 L304.04 339.87 L300.04 346.72 Z" fill="#f9a6ae" stroke="#ff5a5a" stroke-width="1.1" stroke-linejoin="miter"/>
<path d="M300.99 329.23 L308.99 329.23 L304.99 336.08 Z" fill="#f9a6ae" stroke="#ff5a5a" stroke-width="1.1" stroke-linejoin="miter"/>
<path d="M310.87 309.19 L318.87 309.19 L314.87 316.04 Z" fill="#f9a6ae" stroke="#ff5a5a" stroke-width="1.1" stroke-linejoin="miter"/>
<path d="M325.7 293.54 L333.7 293.54 L329.7 300.39 Z" fill="#f9a6ae" stroke="#ff5a5a" stroke-width="1.1" stroke-linejoin="miter"/>
<path d="M340.53 280.15 L348.53 280.15 L344.53 287 Z" fill="#f9a6ae" stroke="#ff5a5a" stroke-width="1.1" stroke-linejoin="miter"/>
<path d="M365.25 272.26 L373.25 272.26 L369.25 279.11 Z" fill="#f9a6ae" stroke="#ff5a5a" stroke-width="1.1" stroke-linejoin="miter"/>
<path d="M389.97 269.26 L397.97 269.26 L393.97 276.11 Z" fill="#f9a6ae" stroke="#ff5a5a" stroke-width="1.1" stroke-linejoin="miter"/>
<path d="M439.4 266.13 L447.4 266.13 L443.4 272.98 Z" fill="#f9a6ae" stroke="#ff5a5a" stroke-width="1.1" stroke-linejoin="miter"/>
<path d="M291.1 256.05 L299.1 256.05 L295.1 249.2 Z" fill="#96d2f7" stroke="#1ea1f2" stroke-width="1.1" stroke-linejoin="miter"/>
<path d="M296.04 296.11 L304.04 296.11 L300.04 289.26 Z" fill="#96d2f7" stroke="#1ea1f2" stroke-width="1.1" stroke-linejoin="miter"/>
<path d="M300.99 306.13 L308.99 306.13 L304.99 299.28 Z" fill="#96d2f7" stroke="#1ea1f2" stroke-width="1.1" stroke-linejoin="miter"/>
<path d="M310.87 327.41 L318.87 327.41 L314.87 320.56 Z" fill="#96d2f7" stroke="#1ea1f2" stroke-width="1.1" stroke-linejoin="miter"/>
<path d="M325.7 343.69 L333.7 343.69 L329.7 336.84 Z" fill="#96d2f7" stroke="#1ea1f2" stroke-width="1.1" stroke-linejoin="miter"/>
<path d="M340.53 356.59 L348.53 356.59 L344.53 349.74 Z" fill="#96d2f7" stroke="#1ea1f2" stroke-width="1.1" stroke-linejoin="miter"/>
<path d="M365.25 364.6 L373.25 364.6 L369.25 357.75 Z" fill="#96d2f7" stroke="#1ea1f2" stroke-width="1.1" stroke-linejoin="miter"/>
<path d="M389.97 368.48 L397.97 368.48 L393.97 361.63 Z" fill="#96d2f7" stroke="#1ea1f2" stroke-width="1.1" stroke-linejoin="miter"/>
<path d="M439.4 371.48 L447.4 371.48 L443.4 364.63 Z" fill="#96d2f7" stroke="#1ea1f2" stroke-width="1.1" stroke-linejoin="miter"/>
<path d="M287.5 247.3 H450.9 V384.4 H287.5 Z" fill="none" stroke="#000" stroke-width="1.1"/>
<line x1="283.9" y1="378.4" x2="287.5" y2="378.4" stroke="#000" stroke-width="1.1"/>
<text transform="translate(281.7 382.1) skewX(0.06) scale(0.1 0.1)" font-size="104" text-anchor="end" fill="#000" stroke="#000" stroke-width="1">0.0</text>
<line x1="283.9" y1="353.36" x2="287.5" y2="353.36" stroke="#000" stroke-width="1.1"/>
<text transform="translate(281.7 357.06) skewX(0.06) scale(0.1 0.1)" font-size="104" text-anchor="end" fill="#000" stroke="#000" stroke-width="1">0.2</text>
<line x1="283.9" y1="328.32" x2="287.5" y2="328.32" stroke="#000" stroke-width="1.1"/>
<text transform="translate(281.7 332.02) skewX(0.06) scale(0.1 0.1)" font-size="104" text-anchor="end" fill="#000" stroke="#000" stroke-width="1">0.4</text>
<line x1="283.9" y1="303.28" x2="287.5" y2="303.28" stroke="#000" stroke-width="1.1"/>
<text transform="translate(281.7 306.98) skewX(0.06) scale(0.1 0.1)" font-size="104" text-anchor="end" fill="#000" stroke="#000" stroke-width="1">0.6</text>
<line x1="283.9" y1="278.24" x2="287.5" y2="278.24" stroke="#000" stroke-width="1.1"/>
<text transform="translate(281.7 281.94) skewX(0.06) scale(0.1 0.1)" font-size="104" text-anchor="end" fill="#000" stroke="#000" stroke-width="1">0.8</text>
<line x1="283.9" y1="253.2" x2="287.5" y2="253.2" stroke="#000" stroke-width="1.1"/>
<text transform="translate(281.7 256.9) skewX(0.06) scale(0.1 0.1)" font-size="104" text-anchor="end" fill="#000" stroke="#000" stroke-width="1">1.0</text>
<line x1="285.5" y1="365.88" x2="287.5" y2="365.88" stroke="#000" stroke-width="1.1"/>
<line x1="285.5" y1="340.84" x2="287.5" y2="340.84" stroke="#000" stroke-width="1.1"/>
<line x1="285.5" y1="315.8" x2="287.5" y2="315.8" stroke="#000" stroke-width="1.1"/>
<line x1="285.5" y1="290.76" x2="287.5" y2="290.76" stroke="#000" stroke-width="1.1"/>
<line x1="285.5" y1="265.72" x2="287.5" y2="265.72" stroke="#000" stroke-width="1.1"/>
<line x1="295.1" y1="384.4" x2="295.1" y2="388" stroke="#000" stroke-width="1.1"/>
<text transform="translate(295.1 398.7) skewX(0.06) scale(0.1 0.1)" font-size="102" text-anchor="middle" fill="#000" stroke="#000" stroke-width="1">0</text>
<line x1="319.82" y1="384.4" x2="319.82" y2="388" stroke="#000" stroke-width="1.1"/>
<text transform="translate(319.82 398.7) skewX(0.06) scale(0.1 0.1)" font-size="102" text-anchor="middle" fill="#000" stroke="#000" stroke-width="1">5</text>
<line x1="344.53" y1="384.4" x2="344.53" y2="388" stroke="#000" stroke-width="1.1"/>
<text transform="translate(344.53 398.7) skewX(0.06) scale(0.1 0.1)" font-size="102" text-anchor="middle" fill="#000" stroke="#000" stroke-width="1">10</text>
<line x1="369.25" y1="384.4" x2="369.25" y2="388" stroke="#000" stroke-width="1.1"/>
<text transform="translate(369.25 398.7) skewX(0.06) scale(0.1 0.1)" font-size="102" text-anchor="middle" fill="#000" stroke="#000" stroke-width="1">15</text>
<line x1="393.97" y1="384.4" x2="393.97" y2="388" stroke="#000" stroke-width="1.1"/>
<text transform="translate(393.97 398.7) skewX(0.06) scale(0.1 0.1)" font-size="102" text-anchor="middle" fill="#000" stroke="#000" stroke-width="1">20</text>
<line x1="418.68" y1="384.4" x2="418.68" y2="388" stroke="#000" stroke-width="1.1"/>
<text transform="translate(418.68 398.7) skewX(0.06) scale(0.1 0.1)" font-size="102" text-anchor="middle" fill="#000" stroke="#000" stroke-width="1">25</text>
<line x1="443.4" y1="384.4" x2="443.4" y2="388" stroke="#000" stroke-width="1.1"/>
<text transform="translate(443.4 398.7) skewX(0.06) scale(0.1 0.1)" font-size="102" text-anchor="middle" fill="#000" stroke="#000" stroke-width="1">30</text>
<line x1="307.46" y1="384.4" x2="307.46" y2="386.4" stroke="#000" stroke-width="1.1"/>
<line x1="332.18" y1="384.4" x2="332.18" y2="386.4" stroke="#000" stroke-width="1.1"/>
<line x1="356.89" y1="384.4" x2="356.89" y2="386.4" stroke="#000" stroke-width="1.1"/>
<line x1="381.61" y1="384.4" x2="381.61" y2="386.4" stroke="#000" stroke-width="1.1"/>
<line x1="406.32" y1="384.4" x2="406.32" y2="386.4" stroke="#000" stroke-width="1.1"/>
<line x1="431.04" y1="384.4" x2="431.04" y2="386.4" stroke="#000" stroke-width="1.1"/>
<text transform="translate(369.4 412.6) skewX(0.06) scale(0.1 0.1)" font-size="104.5" text-anchor="middle" fill="#000" stroke="#000" stroke-width="1">Time (min)</text>
<text transform="translate(257.4 315.2) rotate(-90) skewX(0.06) scale(0.1 0.1)" font-size="107" text-anchor="middle" fill="#000" stroke="#000" stroke-width="1"><tspan>PMSO or PMSO</tspan><tspan dy="23.54" font-size="74.9">2</tspan><tspan dy="-23.54">, C/C</tspan><tspan dy="23.54" font-size="74.9">0</tspan></text>
<line x1="388.2" y1="308.7" x2="406.6" y2="308.7" stroke="#1ea1f2" stroke-width="1.1"/>
<path d="M393.4 311.25 L401.4 311.25 L397.4 304.4 Z" fill="#96d2f7" stroke="#1ea1f2" stroke-width="1.1" stroke-linejoin="miter"/>
<line x1="388.2" y1="319.3" x2="406.6" y2="319.3" stroke="#ff5a5a" stroke-width="1.1"/>
<path d="M393.4 316.75 L401.4 316.75 L397.4 323.6 Z" fill="#f9a6ae" stroke="#ff5a5a" stroke-width="1.1" stroke-linejoin="miter"/>
<text transform="translate(408.8 311.5) skewX(0.06) scale(0.1 0.1)" font-size="78" text-anchor="start" fill="#000" stroke="#000" stroke-width="1">PMSO</text>
<text transform="translate(408.8 322.2) skewX(0.06) scale(0.1 0.1)" font-size="78" text-anchor="start" fill="#000" stroke="#000" stroke-width="1"><tspan>PMSO</tspan><tspan dy="17.16" font-size="51.48">2</tspan></text>
<text transform="translate(232.1 253.6) skewX(0.06) scale(0.1 0.1)" font-size="129" text-anchor="start" font-weight="bold" fill="#000" stroke="#000" stroke-width="4">c</text>
<polyline points="531.75,265.9 536.71,263.02 546.61,263.67 561.47,261.97 576.33,261.32 601.1,260.14 625.87,260.92 675.4,260.92" fill="none" stroke="#ff5c5c" stroke-width="1.1"/>
<circle cx="531.75" cy="265.9" r="3.9" fill="url(#g_ball)"/>
<circle cx="536.71" cy="263.02" r="3.9" fill="url(#g_ball)"/>
<circle cx="546.61" cy="263.67" r="3.9" fill="url(#g_ball)"/>
<circle cx="561.47" cy="261.97" r="3.9" fill="url(#g_ball)"/>
<circle cx="576.33" cy="261.32" r="3.9" fill="url(#g_ball)"/>
<circle cx="601.1" cy="260.14" r="3.9" fill="url(#g_ball)"/>
<circle cx="625.87" cy="260.92" r="3.9" fill="url(#g_ball)"/>
<circle cx="675.4" cy="260.92" r="3.9" fill="url(#g_ball)"/>
<path d="M519.5 247.4 H682.6 V384.4 H519.5 Z" fill="none" stroke="#000" stroke-width="1.1"/>
<line x1="515.9" y1="384.4" x2="519.5" y2="384.4" stroke="#000" stroke-width="1.1"/>
<text transform="translate(513.8 388.1) skewX(0.06) scale(0.1 0.1)" font-size="104" text-anchor="end" fill="#000" stroke="#000" stroke-width="1">0</text>
<line x1="515.9" y1="358.24" x2="519.5" y2="358.24" stroke="#000" stroke-width="1.1"/>
<text transform="translate(513.8 361.94) skewX(0.06) scale(0.1 0.1)" font-size="104" text-anchor="end" fill="#000" stroke="#000" stroke-width="1">20</text>
<line x1="515.9" y1="332.08" x2="519.5" y2="332.08" stroke="#000" stroke-width="1.1"/>
<text transform="translate(513.8 335.78) skewX(0.06) scale(0.1 0.1)" font-size="104" text-anchor="end" fill="#000" stroke="#000" stroke-width="1">40</text>
<line x1="515.9" y1="305.92" x2="519.5" y2="305.92" stroke="#000" stroke-width="1.1"/>
<text transform="translate(513.8 309.62) skewX(0.06) scale(0.1 0.1)" font-size="104" text-anchor="end" fill="#000" stroke="#000" stroke-width="1">60</text>
<line x1="515.9" y1="279.76" x2="519.5" y2="279.76" stroke="#000" stroke-width="1.1"/>
<text transform="translate(513.8 283.46) skewX(0.06) scale(0.1 0.1)" font-size="104" text-anchor="end" fill="#000" stroke="#000" stroke-width="1">80</text>
<line x1="515.9" y1="253.6" x2="519.5" y2="253.6" stroke="#000" stroke-width="1.1"/>
<text transform="translate(513.8 257.3) skewX(0.06) scale(0.1 0.1)" font-size="104" text-anchor="end" fill="#000" stroke="#000" stroke-width="1">100</text>
<line x1="517.5" y1="371.32" x2="519.5" y2="371.32" stroke="#000" stroke-width="1.1"/>
<line x1="517.5" y1="345.16" x2="519.5" y2="345.16" stroke="#000" stroke-width="1.1"/>
<line x1="517.5" y1="319" x2="519.5" y2="319" stroke="#000" stroke-width="1.1"/>
<line x1="517.5" y1="292.84" x2="519.5" y2="292.84" stroke="#000" stroke-width="1.1"/>
<line x1="517.5" y1="266.68" x2="519.5" y2="266.68" stroke="#000" stroke-width="1.1"/>
<line x1="526.8" y1="384.4" x2="526.8" y2="388" stroke="#000" stroke-width="1.1"/>
<text transform="translate(526.8 398.7) skewX(0.06) scale(0.1 0.1)" font-size="103" text-anchor="middle" fill="#000" stroke="#000" stroke-width="1">0</text>
<line x1="551.57" y1="384.4" x2="551.57" y2="388" stroke="#000" stroke-width="1.1"/>
<text transform="translate(551.57 398.7) skewX(0.06) scale(0.1 0.1)" font-size="103" text-anchor="middle" fill="#000" stroke="#000" stroke-width="1">5</text>
<line x1="576.33" y1="384.4" x2="576.33" y2="388" stroke="#000" stroke-width="1.1"/>
<text transform="translate(576.33 398.7) skewX(0.06) scale(0.1 0.1)" font-size="103" text-anchor="middle" fill="#000" stroke="#000" stroke-width="1">10</text>
<line x1="601.1" y1="384.4" x2="601.1" y2="388" stroke="#000" stroke-width="1.1"/>
<text transform="translate(601.1 398.7) skewX(0.06) scale(0.1 0.1)" font-size="103" text-anchor="middle" fill="#000" stroke="#000" stroke-width="1">15</text>
<line x1="625.87" y1="384.4" x2="625.87" y2="388" stroke="#000" stroke-width="1.1"/>
<text transform="translate(625.87 398.7) skewX(0.06) scale(0.1 0.1)" font-size="103" text-anchor="middle" fill="#000" stroke="#000" stroke-width="1">20</text>
<line x1="650.63" y1="384.4" x2="650.63" y2="388" stroke="#000" stroke-width="1.1"/>
<text transform="translate(650.63 398.7) skewX(0.06) scale(0.1 0.1)" font-size="103" text-anchor="middle" fill="#000" stroke="#000" stroke-width="1">25</text>
<line x1="675.4" y1="384.4" x2="675.4" y2="388" stroke="#000" stroke-width="1.1"/>
<text transform="translate(675.4 398.7) skewX(0.06) scale(0.1 0.1)" font-size="103" text-anchor="middle" fill="#000" stroke="#000" stroke-width="1">30</text>
<line x1="539.18" y1="384.4" x2="539.18" y2="386.4" stroke="#000" stroke-width="1.1"/>
<line x1="563.95" y1="384.4" x2="563.95" y2="386.4" stroke="#000" stroke-width="1.1"/>
<line x1="588.72" y1="384.4" x2="588.72" y2="386.4" stroke="#000" stroke-width="1.1"/>
<line x1="613.48" y1="384.4" x2="613.48" y2="386.4" stroke="#000" stroke-width="1.1"/>
<line x1="638.25" y1="384.4" x2="638.25" y2="386.4" stroke="#000" stroke-width="1.1"/>
<line x1="663.02" y1="384.4" x2="663.02" y2="386.4" stroke="#000" stroke-width="1.1"/>
<text transform="translate(601.3 412.3) skewX(0.06) scale(0.1 0.1)" font-size="107" text-anchor="middle" fill="#000" stroke="#000" stroke-width="1">Time (min)</text>
<text transform="translate(490.3 315.2) rotate(-90) skewX(0.06) scale(0.1 0.1)" font-size="108" text-anchor="middle" fill="#000" stroke="#000" stroke-width="1"><tspan>η[PMSO</tspan><tspan dy="23.76" font-size="75.6">2</tspan><tspan dy="-23.76">] (%)</tspan></text>
<text transform="translate(588.8 280.9) skewX(0.06) scale(0.1 0.1)" font-size="79.5" text-anchor="start" fill="#000" stroke="#000" stroke-width="1"><tspan>η[PMSO</tspan><tspan dy="17.49" font-size="52.47">2</tspan><tspan dy="-17.49">]</tspan><tspan dy="17.49" font-size="52.47">30min</tspan><tspan dy="-17.49"> = 94.3%</tspan></text>
<text transform="translate(464.5 255.8) skewX(0.06) scale(0.1 0.1)" font-size="129" text-anchor="start" font-weight="bold" fill="#000" stroke="#000" stroke-width="4">d</text>
<line x1="145.6" y1="466.5" x2="145.6" y2="599.2" stroke="#b5b5b5" stroke-width="0.6"/>
<rect x="56.29" y="575.21" width="12" height="23.99" fill="#c6dbef" stroke="none" stroke-width="1"/>
<text transform="translate(65.29 572.01) rotate(-90) skewX(0.06) scale(0.1 0.1)" font-size="79.5" text-anchor="start" fill="#111" stroke="#111" stroke-width="1">Fe−N−C</text>
<rect x="80.06" y="589.2" width="12" height="10" fill="#6baed6" stroke="none" stroke-width="1"/>
<text transform="translate(89.06 586) rotate(-90) skewX(0.06) scale(0.1 0.1)" font-size="79.5" text-anchor="start" fill="#111" stroke="#111" stroke-width="1">FeMn−N−C</text>
<rect x="103.83" y="577.28" width="12" height="21.92" fill="#2f7cb5" stroke="none" stroke-width="1"/>
<text transform="translate(112.83 574.08) rotate(-90) skewX(0.06) scale(0.1 0.1)" font-size="79.5" text-anchor="start" fill="#111" stroke="#111" stroke-width="1">FeNi−N−C</text>
<rect x="127.6" y="577.28" width="12" height="21.92" fill="#255f88" stroke="none" stroke-width="1"/>
<text transform="translate(136.6 574.08) rotate(-90) skewX(0.06) scale(0.1 0.1)" font-size="79.5" text-anchor="start" fill="#111" stroke="#111" stroke-width="1">FeCu−N−C</text>
<rect x="151.37" y="499" width="12" height="100.21" fill="#ff8c0a" stroke="none" stroke-width="1"/>
<text transform="translate(160.37 575.2) rotate(-90) skewX(0.06) scale(0.1 0.1)" font-size="79.5" text-anchor="start" fill="#fff" stroke="#fff" stroke-width="1">FeSb−N−C</text>
<rect x="175.14" y="487.07" width="12" height="112.13" fill="#ea4a00" stroke="none" stroke-width="1"/>
<text transform="translate(184.14 567) rotate(-90) skewX(0.06) scale(0.1 0.1)" font-size="79.5" text-anchor="start" fill="#fff" stroke="#fff" stroke-width="1">FeIn−N−C</text>
<rect x="198.91" y="480.18" width="12" height="119.02" fill="#cc1512" stroke="none" stroke-width="1"/>
<text transform="translate(207.91 559) rotate(-90) skewX(0.06) scale(0.1 0.1)" font-size="79.5" text-anchor="start" fill="#fff" stroke="#fff" stroke-width="1">FeBi−N−C</text>
<path d="M50.8 466.5 H216.9 V599.2 H50.8 Z" fill="none" stroke="#000" stroke-width="1"/>
<line x1="47.6" y1="598.9" x2="50.8" y2="598.9" stroke="#000" stroke-width="1"/>
<text transform="translate(45.9 600.8) skewX(0.06) scale(0.1 0.1)" font-size="93" text-anchor="end" fill="#111" stroke="#111" stroke-width="1">0.0</text>
<line x1="47.6" y1="572.4" x2="50.8" y2="572.4" stroke="#000" stroke-width="1"/>
<text transform="translate(45.9 574.3) skewX(0.06) scale(0.1 0.1)" font-size="93" text-anchor="end" fill="#111" stroke="#111" stroke-width="1">0.5</text>
<line x1="47.6" y1="545.9" x2="50.8" y2="545.9" stroke="#000" stroke-width="1"/>
<text transform="translate(45.9 547.8) skewX(0.06) scale(0.1 0.1)" font-size="93" text-anchor="end" fill="#111" stroke="#111" stroke-width="1">1.0</text>
<line x1="47.6" y1="519.4" x2="50.8" y2="519.4" stroke="#000" stroke-width="1"/>
<text transform="translate(45.9 521.3) skewX(0.06) scale(0.1 0.1)" font-size="93" text-anchor="end" fill="#111" stroke="#111" stroke-width="1">1.5</text>
<line x1="47.6" y1="492.9" x2="50.8" y2="492.9" stroke="#000" stroke-width="1"/>
<text transform="translate(45.9 494.8) skewX(0.06) scale(0.1 0.1)" font-size="93" text-anchor="end" fill="#111" stroke="#111" stroke-width="1">2.0</text>
<line x1="47.6" y1="466.4" x2="50.8" y2="466.4" stroke="#000" stroke-width="1"/>
<text transform="translate(45.9 468.3) skewX(0.06) scale(0.1 0.1)" font-size="93" text-anchor="end" fill="#111" stroke="#111" stroke-width="1">2.5</text>
<line x1="49.1" y1="585.65" x2="50.8" y2="585.65" stroke="#000" stroke-width="1"/>
<line x1="49.1" y1="559.15" x2="50.8" y2="559.15" stroke="#000" stroke-width="1"/>
<line x1="49.1" y1="532.65" x2="50.8" y2="532.65" stroke="#000" stroke-width="1"/>
<line x1="49.1" y1="506.15" x2="50.8" y2="506.15" stroke="#000" stroke-width="1"/>
<line x1="49.1" y1="479.65" x2="50.8" y2="479.65" stroke="#000" stroke-width="1"/>
<text transform="translate(51 464) skewX(0.06) scale(0.1 0.1)" font-size="86" text-anchor="start" fill="#111" stroke="#111" stroke-width="1"><tspan>×10</tspan><tspan dy="-36.12" font-size="68.8">−8</tspan></text>
<text transform="translate(25.4 617.4) rotate(-90) skewX(0.06) scale(0.1 0.1)" font-size="92.5" text-anchor="start" fill="#111" stroke="#111" stroke-width="1"><tspan>Steady-state concentration of Fe</tspan><tspan dy="-37" font-size="66.6">IV</tspan><tspan dy="37">=O (M)</tspan></text>
<text transform="translate(-1 455.8) skewX(0.06) scale(0.1 0.1)" font-size="129" text-anchor="start" font-weight="bold" fill="#000" stroke="#000" stroke-width="4">e</text>
<line x1="342.55" y1="449" x2="342.55" y2="587.4" stroke="#8a8a8a" stroke-width="0.8" stroke-dasharray="3.2 2.2"/>
<line x1="374.53" y1="449" x2="374.53" y2="587.4" stroke="#8a8a8a" stroke-width="0.8" stroke-dasharray="3.2 2.2"/>
<line x1="400.61" y1="449" x2="400.61" y2="587.4" stroke="#8a8a8a" stroke-width="0.8" stroke-dasharray="3.2 2.2"/>
<line x1="265.6" y1="511.2" x2="446.2" y2="511.2" stroke="#c8c8c8" stroke-width="0.7" stroke-dasharray="2 1.6"/>
<polyline points="265.8,465.39 266.23,465.39 266.65,465.27 267.08,465.79 267.51,464.87 267.93,465.62 268.36,466.06 268.78,465.56 269.21,465.96 269.64,465.34 270.06,465.67 270.49,465.49 270.92,465.76 271.34,465.79 271.77,465.53 272.2,465.08 272.62,465.01 273.05,465.13 273.48,465.82 273.9,465.45 274.33,465.86 274.75,465.69 275.18,465.26 275.61,465.4 276.03,465.77 276.46,465.88 276.89,465.71 277.31,465.88 277.74,466.16 278.17,465.58 278.59,465.96 279.02,465.88 279.44,466.04 279.87,465.85 280.3,465.52 280.72,465.32 281.15,466.02 281.58,466.03 282,465.98 282.43,465.92 282.86,465.84 283.28,466.22 283.71,465.92 284.14,465.39 284.56,466.61 284.99,466.1 285.41,465.48 285.84,465.74 286.27,465.99 286.69,466.08 287.12,465.7 287.55,465.59 287.97,465.01 288.4,465.57 288.83,465.42 289.25,465.83 289.68,464.84 290.1,466.37 290.53,465.51 290.96,465.66 291.38,466.19 291.81,466.29 292.24,466.24 292.66,465.34 293.09,466.04 293.52,465.78 293.94,465.07 294.37,465.1 294.8,465.36 295.22,465.64 295.65,465.54 296.07,465.84 296.5,465.39 296.93,465.71 297.35,465.54 297.78,465.1 298.21,465.57 298.63,465.97 299.06,464.86 299.49,465.87 299.91,465.45 300.34,466.19 300.76,465.66 301.19,464.82 301.62,464.98 302.04,464.93 302.47,465.75 302.9,465.37 303.32,465.62 303.75,465.27 304.18,465.2 304.6,465.03 305.03,465.77 305.46,465.88 305.88,465.42 306.31,465.21 306.73,465.45 307.16,465.85 307.59,465.88 308.01,465.57 308.44,465.13 308.87,464.72 309.29,465.34 309.72,465.72 310.15,465.58 310.57,465.41 311,465.47 311.42,465.61 311.85,465.69 312.28,464.94 312.7,465.47 313.13,465.33 313.56,465.88 313.98,465.25 314.41,464.83 314.84,465.68 315.26,465.44 315.69,465.76 316.12,465.07 316.54,465.78 316.97,465.51 317.39,465.6 317.82,465.51 318.25,465.1 318.67,465.86 319.1,465.53 319.53,465.49 319.95,465.35 320.38,465.63 320.81,465.16 321.23,464.94 321.66,464.8 322.08,465.27 322.51,465.39 322.94,465.64 323.36,465.36 323.79,465.77 324.22,465.08 324.64,464.89 325.07,465.41 325.5,465.24 325.92,465.44 326.35,465.96 326.78,464.88 327.2,465.51 327.63,465.2 328.05,465.61 328.48,465.39 328.91,464.93 329.33,464.93 329.76,466.09 330.19,465.86 330.61,465.34 331.04,465.89 331.47,465.26 331.89,465.81 332.32,465.13 332.74,465.33 333.17,465.3 333.6,465.29 334.02,465.76 334.45,465.57 334.88,465.11 335.3,465.04 335.73,465.52 336.16,465.6 336.58,465.96 337.01,465.94 337.44,465.03 337.86,465.17 338.29,465.66 338.71,465.07 339.14,466.16 339.57,465.63 339.99,465.33 340.42,465.02 340.85,464.96 341.27,464.95 341.7,464.47 342.13,462.52 342.55,460.98 342.98,462.58 343.4,464.36 343.83,465.32 344.26,465.55 344.68,464.93 345.11,465.36 345.54,465.84 345.96,465.46 346.39,465.43 346.82,465.72 347.24,465.18 347.67,465.61 348.1,465.88 348.52,465.93 348.95,465.79 349.37,465.29 349.8,465.48 350.23,465.2 350.65,465.8 351.08,465 351.51,465.17 351.93,465.4 352.36,464.96 352.79,465.47 353.21,466.02 353.64,466.6 354.06,465.48 354.49,466.04 354.92,465.65 355.34,465.31 355.77,465.4 356.2,465.55 356.62,465.5 357.05,464.7 357.48,465.42 357.9,465.13 358.33,464.98 358.76,465.3 359.18,465.38 359.61,465.05 360.03,465.11 360.46,465.52 360.89,464.89 361.31,465.58 361.74,466.24 362.17,465.56 362.59,465.63 363.02,465.14 363.45,465.21 363.87,464.64 364.3,465.64 364.72,465.03 365.15,465.55 365.58,465.33 366,465.24 366.43,464.79 366.86,464.98 367.28,464.84 367.71,465.38 368.14,465.97 368.56,464.7 368.99,464.95 369.42,465.05 369.84,464.62 370.27,464.67 370.69,464.69 371.12,464.77 371.55,464.46 371.97,463.54 372.4,464.1 372.83,462.21 373.25,460.68 373.68,458.92 374.11,457.42 374.53,456.54 374.96,458.77 375.38,460.25 375.81,462.44 376.24,463.32 376.66,463.9 377.09,464.87 377.52,464.19 377.94,464.73 378.37,465.16 378.8,465.07 379.22,464.63 379.65,465.63 380.08,465.75 380.5,465.79 380.93,465.29 381.35,465.4 381.78,465.12 382.21,465.33 382.63,464.78 383.06,465.6 383.49,465.26 383.91,465.36 384.34,465.9 384.77,465.55 385.19,465.14 385.62,465.67 386.04,466.23 386.47,465.68 386.9,465.57 387.32,465 387.75,464.85 388.18,465.52 388.6,465.35 389.03,465.04 389.46,465.43 389.88,465.23 390.31,465.21 390.74,465.11 391.16,464.85 391.59,464.82 392.01,465.68 392.44,465.32 392.87,466.16 393.29,465.22 393.72,465.59 394.15,464.91 394.57,464.82 395,464.94 395.43,466 395.85,465.18 396.28,465.44 396.7,465.57 397.13,465 397.56,464.93 397.98,465.35 398.41,464.52 398.84,464.59 399.26,464.35 399.69,462.73 400.12,461.55 400.54,458.15 400.97,460.21 401.4,462.69 401.82,463.31 402.25,462.88 402.67,464.15 403.1,463.36 403.53,464.18 403.95,464.92 404.38,464.74 404.81,464.4 405.23,464.39 405.66,464.65 406.09,465.37 406.51,465.26 406.94,464.64 407.36,465.27 407.79,465.34 408.22,465.13 408.64,464.68 409.07,465.17 409.5,465.43 409.92,465.3 410.35,465.66 410.78,465.47 411.2,465.86 411.63,465.6 412.06,465.42 412.48,465.74 412.91,465.09 413.33,465.22 413.76,466.08 414.19,465.49 414.61,465.82 415.04,465.3 415.47,465.58 415.89,465.5 416.32,465.08 416.75,465.44 417.17,464.73 417.6,465.84 418.02,466.13 418.45,465.36 418.88,466.06 419.3,465.15 419.73,465.35 420.16,465.47 420.58,465.31 421.01,464.85 421.44,465.37 421.86,465.23 422.29,465.33 422.72,465.29 423.14,465.82 423.57,465.4 423.99,465.23 424.42,465.5 424.85,464.49 425.27,465.49 425.7,465.76 426.13,466.11 426.55,465.63 426.98,466 427.41,465.45 427.83,465.88 428.26,464.97 428.68,465.49 429.11,465.71 429.54,466 429.96,465.28 430.39,465.72 430.82,466.08 431.24,465.84 431.67,465.26 432.1,466.14 432.52,465.5 432.95,464.93 433.38,465.18 433.8,465.93 434.23,465.39 434.65,465.32 435.08,466.24 435.51,465.14 435.93,465.62 436.36,465.72 436.79,464.94 437.21,465.6 437.64,465.62 438.07,465.32 438.49,464.46 438.92,465.65 439.34,465.96 439.77,465.86 440.2,465.44 440.62,465.98 441.05,465.56 441.48,465.45 441.9,465.56 442.33,465.5 442.76,465.36 443.18,465.59 443.61,465.47 444.04,465.28 444.46,466.08 444.89,465.74 445.31,465.75 445.74,465.4 446.17,465.55" fill="none" stroke="#ff7a7a" stroke-width="1.1" stroke-linejoin="round"/>
<polyline points="265.8,478.12 266.23,477.61 266.65,477.32 267.08,477.94 267.51,477.62 267.93,477.5 268.36,478.32 268.78,477.91 269.21,477.71 269.64,477.94 270.06,477.94 270.49,477.8 270.92,477.82 271.34,477.41 271.77,477.81 272.2,477.59 272.62,477.75 273.05,477.99 273.48,477.31 273.9,478.11 274.33,477.6 274.75,478.11 275.18,478.09 275.61,477.9 276.03,477.84 276.46,477.62 276.89,477.19 277.31,477.82 277.74,477.7 278.17,477.77 278.59,477.87 279.02,477.4 279.44,477.96 279.87,478.09 280.3,478.07 280.72,477.51 281.15,477.39 281.58,478.37 282,477.85 282.43,478.11 282.86,478.36 283.28,478.1 283.71,477.37 284.14,478.7 284.56,477.7 284.99,478.05 285.41,477.42 285.84,478.11 286.27,477.75 286.69,478.52 287.12,478.64 287.55,477.68 287.97,477.57 288.4,477.68 288.83,477.76 289.25,478.63 289.68,478.59 290.1,478.3 290.53,477.75 290.96,477.77 291.38,477.95 291.81,478.23 292.24,477.79 292.66,477.35 293.09,477.88 293.52,477.64 293.94,478.12 294.37,478.14 294.8,477.68 295.22,477.6 295.65,477.44 296.07,477.55 296.5,477.49 296.93,477.83 297.35,477.75 297.78,477.22 298.21,477.15 298.63,477.22 299.06,477.08 299.49,477.68 299.91,477 300.34,477.2 300.76,477.38 301.19,477.45 301.62,476.84 302.04,477.17 302.47,477.41 302.9,477.59 303.32,478.08 303.75,477.64 304.18,478.11 304.6,477.73 305.03,477.99 305.46,477.86 305.88,477.75 306.31,477.31 306.73,477.78 307.16,478.17 307.59,477.11 308.01,478.11 308.44,478.21 308.87,477.89 309.29,478.11 309.72,477.9 310.15,477.72 310.57,477.98 311,477.71 311.42,478.27 311.85,478.26 312.28,477.99 312.7,478.02 313.13,478.44 313.56,477.76 313.98,477.69 314.41,477.8 314.84,477.53 315.26,478.52 315.69,478.69 316.12,478.11 316.54,477.67 316.97,477.81 317.39,477.83 317.82,477.1 318.25,477.74 318.67,478.01 319.1,477.55 319.53,478.01 319.95,477.18 320.38,477.83 320.81,477.53 321.23,478.06 321.66,477.84 322.08,478.31 322.51,478.74 322.94,478 323.36,477.76 323.79,477.51 324.22,478.24 324.64,477.98 325.07,477.6 325.5,478.13 325.92,478.5 326.35,477.89 326.78,477.67 327.2,477.78 327.63,477.39 328.05,477.14 328.48,477.65 328.91,477.18 329.33,477.25 329.76,477.04 330.19,477.57 330.61,477.52 331.04,477.47 331.47,477.56 331.89,477.07 332.32,478.01 332.74,478.12 333.17,477.67 333.6,477.18 334.02,476.96 334.45,477.61 334.88,477.79 335.3,477.67 335.73,478.09 336.16,478.23 336.58,477.45 337.01,477.42 337.44,477.9 337.86,477.84 338.29,477.23 338.71,477.83 339.14,477.96 339.57,477.75 339.99,477.89 340.42,476.95 340.85,477.4 341.27,477.02 341.7,476.63 342.13,476.16 342.55,476.23 342.98,476.18 343.4,476.51 343.83,476.66 344.26,476.98 344.68,477.02 345.11,477.95 345.54,477.17 345.96,477.84 346.39,477.39 346.82,477.27 347.24,477.4 347.67,477.57 348.1,477.88 348.52,477.62 348.95,477.92 349.37,477.45 349.8,477.65 350.23,477.89 350.65,477.72 351.08,477.8 351.51,478.04 351.93,477.93 352.36,478.11 352.79,477.99 353.21,477.95 353.64,477.79 354.06,477.88 354.49,477.44 354.92,477.76 355.34,477.98 355.77,477.85 356.2,477.28 356.62,477.66 357.05,477.65 357.48,477.29 357.9,477.74 358.33,477.93 358.76,478.32 359.18,478.2 359.61,477.65 360.03,477.71 360.46,477.76 360.89,477.62 361.31,477.89 361.74,477.49 362.17,477.33 362.59,477.11 363.02,477.83 363.45,478.07 363.87,477.63 364.3,477.45 364.72,477.83 365.15,477.67 365.58,477.89 366,477.2 366.43,477.57 366.86,476.78 367.28,477.91 367.71,476.57 368.14,477.2 368.56,477.19 368.99,477.23 369.42,477.38 369.84,477.37 370.27,477.12 370.69,476.83 371.12,477.01 371.55,476.44 371.97,476.01 372.4,475.57 372.83,473.75 373.25,472.49 373.68,470.48 374.11,468.61 374.53,468.5 374.96,469.71 375.38,472.25 375.81,473.98 376.24,474.96 376.66,476.27 377.09,476.66 377.52,475.8 377.94,476.78 378.37,476.88 378.8,476.68 379.22,477.13 379.65,477.63 380.08,477.14 380.5,477.38 380.93,477.86 381.35,477.75 381.78,477.58 382.21,477.82 382.63,477.33 383.06,477.76 383.49,477.71 383.91,477.33 384.34,477.05 384.77,476.8 385.19,477.34 385.62,477.76 386.04,477.7 386.47,476.86 386.9,477.6 387.32,478.14 387.75,477.48 388.18,477.57 388.6,477.07 389.03,477.7 389.46,477.6 389.88,477.34 390.31,477.5 390.74,477.95 391.16,477.93 391.59,477.27 392.01,478.2 392.44,477.5 392.87,477.79 393.29,477.09 393.72,477.02 394.15,476.86 394.57,477.33 395,476.57 395.43,476.58 395.85,476.14 396.28,476.11 396.7,476.67 397.13,475.88 397.56,475.79 397.98,474.6 398.41,474.72 398.84,473.92 399.26,473.42 399.69,473.43 400.12,473.83 400.54,473.62 400.97,474.12 401.4,474.13 401.82,474.62 402.25,474.74 402.67,475.41 403.1,475.24 403.53,476.35 403.95,475.76 404.38,476.56 404.81,476.32 405.23,476.71 405.66,477.15 406.09,477.14 406.51,477.17 406.94,477.27 407.36,477.12 407.79,477.01 408.22,477.66 408.64,477.46 409.07,477.47 409.5,477.43 409.92,477.76 410.35,477.12 410.78,477.92 411.2,477.29 411.63,477.18 412.06,477.87 412.48,477.21 412.91,478.22 413.33,477.23 413.76,477.71 414.19,477.37 414.61,477.74 415.04,477.83 415.47,477.92 415.89,477.85 416.32,477.72 416.75,477.72 417.17,477.3 417.6,477.13 418.02,477.7 418.45,477.21 418.88,477.75 419.3,477.83 419.73,477.59 420.16,477.77 420.58,477.56 421.01,477.74 421.44,476.99 421.86,477.72 422.29,477.64 422.72,477.55 423.14,478 423.57,477.59 423.99,477.39 424.42,477.54 424.85,477.91 425.27,477.93 425.7,477.94 426.13,477.87 426.55,477.13 426.98,478.18 427.41,477.98 427.83,478.59 428.26,477.83 428.68,477.95 429.11,477.48 429.54,478.11 429.96,477.77 430.39,478.15 430.82,477.93 431.24,477.54 431.67,477.52 432.1,477.02 432.52,477.4 432.95,477.5 433.38,478.25 433.8,477.45 434.23,477.4 434.65,477.76 435.08,477.26 435.51,477.55 435.93,477.27 436.36,477.19 436.79,477.58 437.21,477.33 437.64,477.13 438.07,476.6 438.49,477.66 438.92,478.53 439.34,477.72 439.77,477.51 440.2,477.94 440.62,477.72 441.05,478.01 441.48,477.77 441.9,478.53 442.33,477.79 442.76,477.66 443.18,478.17 443.61,478.14 444.04,477.6 444.46,478.43 444.89,477.63 445.31,477.37 445.74,477.52 446.17,477.77" fill="none" stroke="#ffb040" stroke-width="1.1" stroke-linejoin="round"/>
<polyline points="265.8,490.8 266.23,490.5 266.65,490.96 267.08,490.84 267.51,489.89 267.93,491.19 268.36,491.17 268.78,490.6 269.21,491.24 269.64,490.75 270.06,490.8 270.49,490.35 270.92,490.09 271.34,490.61 271.77,490.18 272.2,490.67 272.62,490.66 273.05,490.78 273.48,490.86 273.9,490.5 274.33,490.88 274.75,491.06 275.18,490.65 275.61,490.5 276.03,490.03 276.46,490.48 276.89,490.69 277.31,490.9 277.74,490.9 278.17,490.13 278.59,490.51 279.02,490.24 279.44,490.57 279.87,490.56 280.3,490.38 280.72,490.65 281.15,490.15 281.58,490.44 282,490.43 282.43,490.56 282.86,490.16 283.28,490.27 283.71,491.12 284.14,490.98 284.56,490.87 284.99,490.29 285.41,490.46 285.84,491.03 286.27,490.72 286.69,490.56 287.12,490.11 287.55,490.8 287.97,490.95 288.4,490.58 288.83,489.73 289.25,490.9 289.68,490.74 290.1,491.44 290.53,490.91 290.96,490.95 291.38,490.56 291.81,491.1 292.24,490.19 292.66,491.03 293.09,490.06 293.52,490.89 293.94,491.02 294.37,490.95 294.8,491.11 295.22,490.61 295.65,491.17 296.07,491 296.5,491.05 296.93,490.85 297.35,490.55 297.78,490.4 298.21,490.59 298.63,490.89 299.06,490.32 299.49,490.44 299.91,490.49 300.34,490.74 300.76,490.74 301.19,490.3 301.62,490.73 302.04,491.25 302.47,490.29 302.9,491.05 303.32,490.8 303.75,491.24 304.18,489.97 304.6,490.71 305.03,490.82 305.46,491.34 305.88,490.99 306.31,490.01 306.73,490.6 307.16,490.31 307.59,490.46 308.01,490.21 308.44,490.58 308.87,490.34 309.29,490.38 309.72,490.84 310.15,490.95 310.57,490.5 311,490.72 311.42,490.66 311.85,490.43 312.28,490.17 312.7,490.71 313.13,490.66 313.56,489.91 313.98,490.54 314.41,490.47 314.84,490.02 315.26,490.6 315.69,490.1 316.12,490.43 316.54,490.68 316.97,490.29 317.39,490.46 317.82,490.98 318.25,491.38 318.67,490.68 319.1,491.1 319.53,490.3 319.95,491.05 320.38,491.1 320.81,490.27 321.23,490.45 321.66,490.59 322.08,490.67 322.51,490.34 322.94,489.71 323.36,490.48 323.79,490.29 324.22,490.32 324.64,490.5 325.07,490.74 325.5,490.47 325.92,491.14 326.35,490.31 326.78,490.74 327.2,491.09 327.63,489.94 328.05,490.63 328.48,490.02 328.91,490.92 329.33,490.51 329.76,490.49 330.19,489.72 330.61,490.15 331.04,490.38 331.47,490.74 331.89,490.91 332.32,490.85 332.74,490.87 333.17,490.25 333.6,490.52 334.02,490.24 334.45,490.15 334.88,490.48 335.3,490.26 335.73,490.86 336.16,490.21 336.58,490.81 337.01,490.62 337.44,490.27 337.86,489.49 338.29,489.92 338.71,489.99 339.14,489.85 339.57,490.3 339.99,490.06 340.42,489.36 340.85,489.32 341.27,488.93 341.7,488.36 342.13,487.74 342.55,488.03 342.98,487.74 343.4,488.01 343.83,488.82 344.26,489.19 344.68,489.8 345.11,490.46 345.54,489.83 345.96,490.19 346.39,490.04 346.82,490.36 347.24,490.6 347.67,490.59 348.1,490.67 348.52,490.34 348.95,490.25 349.37,490.21 349.8,490.09 350.23,489.74 350.65,490.16 351.08,490.99 351.51,490.84 351.93,490.8 352.36,490.64 352.79,490.47 353.21,490.31 353.64,491.15 354.06,491.21 354.49,490.57 354.92,490.59 355.34,490.47 355.77,490.65 356.2,490.57 356.62,490.47 357.05,490.81 357.48,490.86 357.9,490.54 358.33,490.68 358.76,490.49 359.18,490.32 359.61,490.31 360.03,490.07 360.46,490.34 360.89,490.22 361.31,490.45 361.74,490.76 362.17,490.77 362.59,490.56 363.02,490.85 363.45,490.55 363.87,491.02 364.3,490.33 364.72,490.08 365.15,490.36 365.58,489.9 366,490.23 366.43,490.03 366.86,490.48 367.28,490.13 367.71,490.12 368.14,489.68 368.56,490.19 368.99,489.52 369.42,489.93 369.84,490.13 370.27,490.09 370.69,490.09 371.12,489.23 371.55,488.6 371.97,488.99 372.4,487.88 372.83,486.91 373.25,484.67 373.68,482.95 374.11,480.63 374.53,480.53 374.96,482.16 375.38,484.59 375.81,485.8 376.24,487.2 376.66,488.79 377.09,489.21 377.52,489.34 377.94,489.4 378.37,489.51 378.8,490.03 379.22,489.63 379.65,490.39 380.08,490.14 380.5,489.63 380.93,489.83 381.35,490.2 381.78,490.27 382.21,490.27 382.63,490.99 383.06,490.64 383.49,490.96 383.91,490.93 384.34,490.57 384.77,491.02 385.19,490.51 385.62,490.74 386.04,490.72 386.47,491.13 386.9,490.65 387.32,490.57 387.75,490.61 388.18,490.83 388.6,490.25 389.03,490.07 389.46,490.45 389.88,490.59 390.31,490.8 390.74,490.42 391.16,490.8 391.59,490.31 392.01,489.83 392.44,490.36 392.87,490.17 393.29,491.14 393.72,490.49 394.15,490.17 394.57,490.52 395,490.89 395.43,490.43 395.85,490.8 396.28,489.96 396.7,489.86 397.13,489.93 397.56,489.89 397.98,489.23 398.41,488.86 398.84,488.43 399.26,487.16 399.69,485.67 400.12,483.04 400.54,481.28 400.97,482.53 401.4,485.09 401.82,486.56 402.25,488.08 402.67,488.53 403.1,489.09 403.53,489.59 403.95,490.3 404.38,490.29 404.81,489.75 405.23,489.79 405.66,490.22 406.09,490.6 406.51,489.96 406.94,490.61 407.36,490.25 407.79,490.39 408.22,490.42 408.64,490.27 409.07,490.18 409.5,491.13 409.92,490.35 410.35,489.83 410.78,490.07 411.2,490.66 411.63,490.15 412.06,490.52 412.48,490.15 412.91,490.83 413.33,490.21 413.76,490.06 414.19,490.41 414.61,490.41 415.04,491.21 415.47,490.82 415.89,490.93 416.32,489.89 416.75,490.44 417.17,490.96 417.6,491.55 418.02,490.79 418.45,491.28 418.88,490.01 419.3,490.54 419.73,490.51 420.16,490.44 420.58,490.23 421.01,490.06 421.44,490.07 421.86,490.47 422.29,490.53 422.72,490.38 423.14,490.03 423.57,490.11 423.99,490.62 424.42,490.94 424.85,489.83 425.27,490.85 425.7,490.41 426.13,490.65 426.55,490.86 426.98,490.93 427.41,490.45 427.83,490.96 428.26,490.49 428.68,490.36 429.11,490.98 429.54,490.87 429.96,490.69 430.39,490.77 430.82,490.64 431.24,490.69 431.67,490.88 432.1,490.63 432.52,490.57 432.95,490.15 433.38,489.8 433.8,490.39 434.23,489.76 434.65,490.1 435.08,490.23 435.51,490.82 435.93,490.95 436.36,490.3 436.79,490.19 437.21,490.25 437.64,490.54 438.07,490.24 438.49,490.3 438.92,490.66 439.34,490.24 439.77,490.87 440.2,490.2 440.62,490.5 441.05,489.97 441.48,490.79 441.9,490.74 442.33,490.62 442.76,490.87 443.18,490.64 443.61,490.76 444.04,490.6 444.46,491.1 444.89,490.73 445.31,491.17 445.74,490.44 446.17,490.57" fill="none" stroke="#5fc589" stroke-width="1.1" stroke-linejoin="round"/>
<polyline points="265.8,504.01 266.23,503.12 266.65,503.57 267.08,503.32 267.51,503 267.93,503.71 268.36,503.23 268.78,503.2 269.21,503.63 269.64,503.54 270.06,503.61 270.49,503.15 270.92,502.64 271.34,502.9 271.77,503.29 272.2,503.83 272.62,502.7 273.05,503.38 273.48,503.41 273.9,503.21 274.33,503.23 274.75,503.53 275.18,503.93 275.61,503.75 276.03,503.19 276.46,503.69 276.89,502.9 277.31,503.03 277.74,503.92 278.17,503.12 278.59,503.44 279.02,503.24 279.44,502.71 279.87,503.81 280.3,503.18 280.72,503.84 281.15,503.42 281.58,504.06 282,503.51 282.43,503.09 282.86,502.66 283.28,502.38 283.71,503.24 284.14,503.35 284.56,502.81 284.99,503.17 285.41,503.71 285.84,503.4 286.27,503.57 286.69,503.66 287.12,503.26 287.55,503.84 287.97,503.73 288.4,503.19 288.83,503.93 289.25,503.46 289.68,503.13 290.1,504.12 290.53,503.29 290.96,503.47 291.38,503.46 291.81,503.34 292.24,502.88 292.66,503.34 293.09,503.87 293.52,504.37 293.94,503.81 294.37,503.45 294.8,503.33 295.22,503.86 295.65,503.33 296.07,503.38 296.5,503.98 296.93,504.13 297.35,503.99 297.78,504.25 298.21,503.48 298.63,503.65 299.06,503.93 299.49,502.7 299.91,503.36 300.34,503.72 300.76,503.87 301.19,503.05 301.62,503.68 302.04,503.74 302.47,503.54 302.9,503.64 303.32,503.48 303.75,503.74 304.18,503.55 304.6,503.28 305.03,503.36 305.46,503.32 305.88,503.09 306.31,503.03 306.73,503.42 307.16,503.14 307.59,503 308.01,502.71 308.44,503.46 308.87,503.5 309.29,503.12 309.72,503.68 310.15,503.3 310.57,503.1 311,503.17 311.42,503.54 311.85,503.16 312.28,503.68 312.7,504 313.13,503.89 313.56,503.59 313.98,503.43 314.41,503.68 314.84,503.64 315.26,503.93 315.69,503.44 316.12,502.86 316.54,503.2 316.97,502.78 317.39,503.58 317.82,503.32 318.25,503.91 318.67,503.32 319.1,503.01 319.53,503.47 319.95,503.22 320.38,503.93 320.81,504.04 321.23,503.3 321.66,503.14 322.08,503.05 322.51,503.39 322.94,503.92 323.36,503.91 323.79,503.79 324.22,503.32 324.64,503.46 325.07,503.23 325.5,502.96 325.92,503.37 326.35,503.16 326.78,503.21 327.2,503.23 327.63,502.99 328.05,503.42 328.48,503.31 328.91,503.69 329.33,503.82 329.76,503.3 330.19,503.81 330.61,503.37 331.04,503.16 331.47,503.81 331.89,503.68 332.32,503.51 332.74,503.62 333.17,503.67 333.6,502.8 334.02,503.69 334.45,503.09 334.88,503.02 335.3,503.8 335.73,503.98 336.16,503.74 336.58,503.36 337.01,502.75 337.44,502.75 337.86,503.78 338.29,503.7 338.71,503.51 339.14,503.32 339.57,503.48 339.99,503.09 340.42,503.2 340.85,503.23 341.27,502.77 341.7,502.32 342.13,500.69 342.55,499.14 342.98,500.77 343.4,501.59 343.83,502.35 344.26,502.55 344.68,502.97 345.11,503.02 345.54,503.37 345.96,503.26 346.39,503.45 346.82,503.38 347.24,503.19 347.67,503.52 348.1,502.81 348.52,502.59 348.95,503.66 349.37,503.18 349.8,504.45 350.23,503.1 350.65,503.75 351.08,503.64 351.51,503.03 351.93,503.71 352.36,502.72 352.79,503.74 353.21,503.32 353.64,503.31 354.06,503.15 354.49,503.63 354.92,503.71 355.34,503.05 355.77,503.89 356.2,503.31 356.62,503.38 357.05,503.24 357.48,503.38 357.9,503.56 358.33,504.33 358.76,503.29 359.18,503.14 359.61,503.15 360.03,502.93 360.46,503.43 360.89,503.37 361.31,502.94 361.74,503.11 362.17,502.64 362.59,503.86 363.02,503.51 363.45,503.4 363.87,502.89 364.3,502.37 364.72,503.29 365.15,503.52 365.58,503.08 366,502.87 366.43,503.15 366.86,503.01 367.28,503.16 367.71,503.21 368.14,502.95 368.56,502.35 368.99,502.82 369.42,502.14 369.84,502.48 370.27,501.98 370.69,501.25 371.12,502.31 371.55,501.18 371.97,501.26 372.4,500.84 372.83,499.05 373.25,497.61 373.68,494.84 374.11,493.47 374.53,493.44 374.96,494.51 375.38,497.04 375.81,498.5 376.24,499.8 376.66,500.85 377.09,501.52 377.52,501.73 377.94,502.6 378.37,502 378.8,502.5 379.22,502.86 379.65,502.71 380.08,502.77 380.5,503.24 380.93,503.05 381.35,503.73 381.78,503.78 382.21,503.27 382.63,503.34 383.06,503.99 383.49,503.55 383.91,503.03 384.34,503.25 384.77,503.57 385.19,503.05 385.62,503.79 386.04,503.71 386.47,503.98 386.9,503.64 387.32,503.91 387.75,503.38 388.18,503.84 388.6,504.02 389.03,503.72 389.46,504.06 389.88,503.65 390.31,502.9 390.74,503.53 391.16,502.72 391.59,503.17 392.01,503.38 392.44,503.05 392.87,502.97 393.29,503.26 393.72,503.31 394.15,503.81 394.57,502.87 395,502.69 395.43,502.81 395.85,503.18 396.28,502.93 396.7,502.78 397.13,502.51 397.56,501.88 397.98,501.29 398.41,501.43 398.84,500.73 399.26,499.88 399.69,497.62 400.12,495.28 400.54,494.05 400.97,494.53 401.4,497.41 401.82,499.62 402.25,500.53 402.67,501.47 403.1,501.8 403.53,502.05 403.95,501.81 404.38,502.64 404.81,502.83 405.23,502.56 405.66,503.26 406.09,502.93 406.51,503.39 406.94,503.64 407.36,503.37 407.79,502.9 408.22,503.85 408.64,503.81 409.07,503.64 409.5,503.49 409.92,503.6 410.35,503.43 410.78,503.26 411.2,503.35 411.63,503.11 412.06,503.08 412.48,502.92 412.91,502.7 413.33,502.74 413.76,503.52 414.19,503.58 414.61,503.57 415.04,503.5 415.47,503.17 415.89,503.1 416.32,503.13 416.75,503.76 417.17,504.29 417.6,503.98 418.02,503.34 418.45,503.26 418.88,503.35 419.3,503.33 419.73,503.18 420.16,503.6 420.58,503.14 421.01,503.87 421.44,503.53 421.86,504.31 422.29,503.78 422.72,503.13 423.14,503.63 423.57,503.82 423.99,504.29 424.42,503.57 424.85,503.96 425.27,504.09 425.7,503.02 426.13,503.45 426.55,503.27 426.98,503.18 427.41,502.93 427.83,503.14 428.26,503.57 428.68,503.52 429.11,503.78 429.54,503.69 429.96,503.93 430.39,503.81 430.82,504.02 431.24,503.47 431.67,503.79 432.1,503.94 432.52,504.24 432.95,503.55 433.38,503.9 433.8,503.13 434.23,503.81 434.65,503.64 435.08,503.23 435.51,502.99 435.93,502.75 436.36,503.35 436.79,503.55 437.21,503.42 437.64,503.78 438.07,503.24 438.49,504.29 438.92,503.48 439.34,503.86 439.77,503.92 440.2,503.65 440.62,503.59 441.05,504.11 441.48,503.68 441.9,503.59 442.33,503.53 442.76,503.44 443.18,503.37 443.61,503.07 444.04,503.22 444.46,503.41 444.89,503.58 445.31,503.48 445.74,503.43 446.17,503.38" fill="none" stroke="#4db8f7" stroke-width="1.1" stroke-linejoin="round"/>
<polyline points="265.8,526.85 266.23,526.88 266.65,526.71 267.08,526.82 267.51,526.65 267.93,526.61 268.36,526.87 268.78,526.76 269.21,526.74 269.64,526.6 270.06,526.73 270.49,526.59 270.92,526.47 271.34,526.93 271.77,526.99 272.2,527.03 272.62,527.19 273.05,526.8 273.48,527.07 273.9,526.89 274.33,526.53 274.75,526.76 275.18,527.15 275.61,526.91 276.03,526.97 276.46,527.14 276.89,527.06 277.31,526.87 277.74,527.24 278.17,527.25 278.59,527.12 279.02,526.98 279.44,526.85 279.87,526.89 280.3,526.96 280.72,527.17 281.15,526.91 281.58,526.7 282,526.91 282.43,526.96 282.86,527.23 283.28,526.91 283.71,527.06 284.14,526.62 284.56,527.01 284.99,527.08 285.41,526.86 285.84,526.7 286.27,526.86 286.69,526.69 287.12,526.94 287.55,527.31 287.97,527.06 288.4,527.06 288.83,527.08 289.25,526.95 289.68,527.01 290.1,526.65 290.53,526.91 290.96,527.17 291.38,526.82 291.81,526.93 292.24,526.64 292.66,526.69 293.09,526.79 293.52,526.83 293.94,526.81 294.37,527.15 294.8,526.7 295.22,526.9 295.65,526.91 296.07,526.98 296.5,526.87 296.93,526.8 297.35,527.15 297.78,526.73 298.21,526.72 298.63,526.88 299.06,526.79 299.49,526.44 299.91,526.55 300.34,526.5 300.76,526.54 301.19,526.95 301.62,526.66 302.04,526.76 302.47,526.92 302.9,526.76 303.32,527.04 303.75,526.87 304.18,527.11 304.6,527 305.03,527.11 305.46,527.24 305.88,526.87 306.31,526.74 306.73,526.96 307.16,527.09 307.59,526.89 308.01,527.04 308.44,526.98 308.87,526.85 309.29,527.11 309.72,526.97 310.15,526.72 310.57,526.75 311,526.87 311.42,526.61 311.85,526.62 312.28,526.75 312.7,526.99 313.13,526.6 313.56,527.05 313.98,527.23 314.41,526.72 314.84,527.36 315.26,526.88 315.69,526.94 316.12,527.15 316.54,527.07 316.97,527.08 317.39,527 317.82,526.76 318.25,526.88 318.67,527.3 319.1,527.13 319.53,526.99 319.95,526.9 320.38,526.63 320.81,526.95 321.23,527.16 321.66,526.74 322.08,526.77 322.51,526.6 322.94,526.26 323.36,526.2 323.79,525.91 324.22,526.16 324.64,525.5 325.07,525.12 325.5,524.97 325.92,524.39 326.35,524.25 326.78,524.92 327.2,524.92 327.63,525.72 328.05,526.11 328.48,526.01 328.91,526.38 329.33,526.63 329.76,526.62 330.19,526.53 330.61,526.74 331.04,526.77 331.47,526.52 331.89,526.8 332.32,526.74 332.74,526.64 333.17,526.4 333.6,526.58 334.02,527.23 334.45,526.83 334.88,526.87 335.3,526.95 335.73,526.84 336.16,527.05 336.58,526.89 337.01,526.83 337.44,526.68 337.86,526.52 338.29,526.55 338.71,526.5 339.14,526.72 339.57,526.57 339.99,526.33 340.42,526.05 340.85,525.56 341.27,525.65 341.7,525.75 342.13,525.53 342.55,525.5 342.98,525.43 343.4,526.06 343.83,525.83 344.26,526.32 344.68,526.53 345.11,526.44 345.54,526.6 345.96,526.93 346.39,526.54 346.82,526.94 347.24,526.87 347.67,526.53 348.1,526.47 348.52,526.93 348.95,527.03 349.37,527.1 349.8,526.59 350.23,526.65 350.65,526.52 351.08,526.71 351.51,526.84 351.93,526.63 352.36,526.88 352.79,526.82 353.21,526.85 353.64,526.78 354.06,527.16 354.49,527.12 354.92,526.99 355.34,527.21 355.77,527.12 356.2,527.13 356.62,526.77 357.05,526.86 357.48,526.91 357.9,526.68 358.33,526.86 358.76,526.79 359.18,526.86 359.61,526.8 360.03,526.63 360.46,526.74 360.89,527 361.31,526.73 361.74,526.58 362.17,526.86 362.59,526.75 363.02,526.71 363.45,526.81 363.87,526.58 364.3,526.68 364.72,526.74 365.15,526.92 365.58,526.74 366,526.88 366.43,526.97 366.86,526.65 367.28,526.87 367.71,526.79 368.14,526.78 368.56,525.98 368.99,526.45 369.42,525.96 369.84,525.81 370.27,525.88 370.69,525.53 371.12,525.67 371.55,525.4 371.97,524.72 372.4,523.77 372.83,522.39 373.25,520.59 373.68,518.47 374.11,516.92 374.53,516.46 374.96,517.78 375.38,520.14 375.81,522.22 376.24,523.41 376.66,524.05 377.09,524.57 377.52,524.96 377.94,525.43 378.37,525.97 378.8,525.94 379.22,526.45 379.65,526.19 380.08,526.66 380.5,526.57 380.93,526.63 381.35,526.63 381.78,526.51 382.21,526.32 382.63,526.35 383.06,526.41 383.49,526.49 383.91,526.84 384.34,526.18 384.77,526.3 385.19,526.44 385.62,526.69 386.04,526.37 386.47,527.15 386.9,526.87 387.32,526.97 387.75,526.91 388.18,526.98 388.6,526.64 389.03,526.68 389.46,526.59 389.88,526.56 390.31,526.5 390.74,526.98 391.16,526.62 391.59,526.85 392.01,527.07 392.44,526.88 392.87,526.76 393.29,526.68 393.72,526.37 394.15,526.88 394.57,526.99 395,526.84 395.43,526.61 395.85,526.86 396.28,526.59 396.7,526.69 397.13,526.39 397.56,526.12 397.98,526.46 398.41,525.79 398.84,525.31 399.26,525.22 399.69,524.34 400.12,523.57 400.54,522.84 400.97,523.03 401.4,523.87 401.82,524.65 402.25,526.01 402.67,525.8 403.1,526.38 403.53,526.27 403.95,526.67 404.38,526.79 404.81,526.52 405.23,526.36 405.66,526.38 406.09,526.64 406.51,527.26 406.94,526.94 407.36,526.79 407.79,526.95 408.22,526.7 408.64,526.81 409.07,526.85 409.5,526.97 409.92,526.9 410.35,526.81 410.78,526.92 411.2,527.13 411.63,526.89 412.06,526.88 412.48,527.14 412.91,526.82 413.33,526.83 413.76,526.98 414.19,526.71 414.61,527.05 415.04,526.54 415.47,526.84 415.89,526.96 416.32,526.86 416.75,527.11 417.17,526.99 417.6,527.14 418.02,527.12 418.45,526.78 418.88,527.21 419.3,527.09 419.73,526.96 420.16,526.53 420.58,526.75 421.01,526.8 421.44,527.1 421.86,527.17 422.29,527.28 422.72,526.84 423.14,526.83 423.57,526.71 423.99,526.9 424.42,526.43 424.85,526.63 425.27,526.7 425.7,526.83 426.13,526.87 426.55,526.81 426.98,526.71 427.41,526.86 427.83,526.64 428.26,526.6 428.68,526.63 429.11,527.07 429.54,527.06 429.96,526.95 430.39,526.86 430.82,526.84 431.24,526.99 431.67,527.17 432.1,527.08 432.52,527.21 432.95,527.01 433.38,526.93 433.8,527.25 434.23,526.82 434.65,526.73 435.08,526.59 435.51,526.85 435.93,527.07 436.36,526.69 436.79,526.59 437.21,526.61 437.64,526.7 438.07,526.76 438.49,526.84 438.92,526.77 439.34,527.01 439.77,526.77 440.2,526.65 440.62,526.64 441.05,526.95 441.48,526.45 441.9,526.92 442.33,526.79 442.76,526.48 443.18,526.49 443.61,526.35 444.04,526.79 444.46,526.63 444.89,526.7 445.31,526.69 445.74,526.82 446.17,527" fill="none" stroke="#f94444" stroke-width="1.25" stroke-linejoin="round"/>
<polyline points="265.8,540.12 266.23,540.09 266.65,540.13 267.08,540.41 267.51,540.38 267.93,540.28 268.36,540.08 268.78,540.44 269.21,540.36 269.64,540.05 270.06,540.24 270.49,540.19 270.92,540.28 271.34,539.92 271.77,540.05 272.2,539.75 272.62,539.97 273.05,540.22 273.48,539.66 273.9,539.91 274.33,540.04 274.75,540.38 275.18,539.79 275.61,539.93 276.03,539.95 276.46,540.08 276.89,540.12 277.31,540.09 277.74,539.89 278.17,540.02 278.59,539.7 279.02,540.21 279.44,540.11 279.87,540.34 280.3,539.91 280.72,539.94 281.15,540.08 281.58,540.11 282,540.2 282.43,540.36 282.86,540.27 283.28,540.04 283.71,539.9 284.14,539.9 284.56,540.16 284.99,540.11 285.41,540.17 285.84,540.06 286.27,540.02 286.69,540.07 287.12,539.92 287.55,540.35 287.97,540.36 288.4,540.13 288.83,539.96 289.25,540.26 289.68,540.03 290.1,539.82 290.53,539.97 290.96,540.17 291.38,539.88 291.81,539.88 292.24,540.08 292.66,540.14 293.09,540.12 293.52,540.2 293.94,540.05 294.37,540.37 294.8,540.26 295.22,540.1 295.65,539.94 296.07,539.99 296.5,540.25 296.93,540.21 297.35,540.22 297.78,540.03 298.21,540.41 298.63,540.31 299.06,540.17 299.49,539.99 299.91,540.34 300.34,540.07 300.76,540.13 301.19,540.37 301.62,540.1 302.04,539.92 302.47,540.21 302.9,540.1 303.32,540.4 303.75,540.17 304.18,540.24 304.6,540.13 305.03,540.11 305.46,540.06 305.88,540.1 306.31,540.17 306.73,540.01 307.16,540.08 307.59,539.95 308.01,539.83 308.44,539.61 308.87,539.52 309.29,540 309.72,539.93 310.15,539.95 310.57,539.76 311,539.86 311.42,539.94 311.85,539.62 312.28,539.77 312.7,539.84 313.13,540.04 313.56,539.84 313.98,540.19 314.41,539.97 314.84,540.53 315.26,540.33 315.69,540.07 316.12,540.12 316.54,540.06 316.97,539.75 317.39,540.31 317.82,539.94 318.25,539.92 318.67,539.89 319.1,539.74 319.53,540.11 319.95,539.75 320.38,540.19 320.81,540.25 321.23,539.67 321.66,539.92 322.08,539.7 322.51,539.82 322.94,539.57 323.36,539.65 323.79,539.28 324.22,539.21 324.64,539.1 325.07,539.09 325.5,538.81 325.92,538.99 326.35,538.62 326.78,539.08 327.2,539.14 327.63,539.18 328.05,539.08 328.48,539.25 328.91,539.28 329.33,539.39 329.76,539.2 330.19,539.18 330.61,539.82 331.04,539.59 331.47,539.9 331.89,539.43 332.32,539.53 332.74,539.62 333.17,539.58 333.6,539.9 334.02,539.9 334.45,539.64 334.88,539.98 335.3,539.57 335.73,539.78 336.16,539.95 336.58,539.98 337.01,539.73 337.44,539.66 337.86,539.78 338.29,539.44 338.71,539.68 339.14,539.37 339.57,539.38 339.99,539.08 340.42,538.69 340.85,538.84 341.27,538.69 341.7,538.47 342.13,537.83 342.55,537.78 342.98,538.13 343.4,538.36 343.83,538.42 344.26,538.81 344.68,538.8 345.11,539.14 345.54,539.27 345.96,539.45 346.39,539.85 346.82,539.7 347.24,539.78 347.67,539.65 348.1,539.84 348.52,539.76 348.95,540.03 349.37,540.06 349.8,539.94 350.23,540.19 350.65,540.07 351.08,540.03 351.51,539.85 351.93,539.81 352.36,539.91 352.79,540.02 353.21,539.95 353.64,539.94 354.06,539.89 354.49,540.33 354.92,540.29 355.34,539.89 355.77,540.01 356.2,539.79 356.62,539.65 357.05,540.03 357.48,540.12 357.9,539.78 358.33,539.89 358.76,539.88 359.18,540.12 359.61,539.89 360.03,539.8 360.46,539.84 360.89,539.83 361.31,540.1 361.74,539.89 362.17,539.93 362.59,539.96 363.02,539.8 363.45,539.89 363.87,539.65 364.3,539.89 364.72,539.7 365.15,539.97 365.58,539.79 366,539.86 366.43,540 366.86,539.53 367.28,539.57 367.71,539.67 368.14,539.76 368.56,539.91 368.99,539.61 369.42,539.54 369.84,539.46 370.27,539.25 370.69,539.01 371.12,538.74 371.55,538.2 371.97,537.62 372.4,536.7 372.83,535.61 373.25,533.6 373.68,531.42 374.11,529.84 374.53,529.71 374.96,531.34 375.38,533.22 375.81,535.22 376.24,536.33 376.66,537.05 377.09,537.77 377.52,538.23 377.94,538.7 378.37,539.2 378.8,539.37 379.22,539.29 379.65,539.65 380.08,539.56 380.5,539.5 380.93,539.12 381.35,539.82 381.78,539.51 382.21,539.6 382.63,539.86 383.06,539.82 383.49,539.46 383.91,539.8 384.34,539.96 384.77,539.65 385.19,540.12 385.62,539.89 386.04,539.67 386.47,539.87 386.9,539.96 387.32,539.68 387.75,539.98 388.18,539.87 388.6,540.01 389.03,539.7 389.46,539.97 389.88,540.05 390.31,540.09 390.74,539.82 391.16,539.96 391.59,539.58 392.01,540.05 392.44,539.96 392.87,539.7 393.29,540.01 393.72,539.67 394.15,539.93 394.57,539.76 395,539.94 395.43,539.76 395.85,539.86 396.28,539.41 396.7,539.39 397.13,539.49 397.56,539 397.98,538.9 398.41,538.38 398.84,537.78 399.26,536.42 399.69,535.17 400.12,534.39 400.54,533.56 400.97,533.63 401.4,535.11 401.82,536.75 402.25,537.76 402.67,538.53 403.1,538.72 403.53,538.99 403.95,539.41 404.38,539.62 404.81,539.5 405.23,539.55 405.66,539.62 406.09,539.84 406.51,539.56 406.94,539.73 407.36,539.88 407.79,539.69 408.22,539.98 408.64,539.89 409.07,539.79 409.5,539.71 409.92,539.95 410.35,539.8 410.78,539.88 411.2,540.02 411.63,540.16 412.06,540.08 412.48,540.13 412.91,539.9 413.33,540.05 413.76,540.22 414.19,539.89 414.61,539.79 415.04,540.07 415.47,540.14 415.89,540.11 416.32,540.43 416.75,540.29 417.17,540.46 417.6,540.32 418.02,540.27 418.45,540.25 418.88,540.03 419.3,540.3 419.73,540.11 420.16,540.31 420.58,540.02 421.01,540.19 421.44,540.59 421.86,540.07 422.29,540.51 422.72,539.92 423.14,540.08 423.57,540.12 423.99,539.96 424.42,540.02 424.85,540.04 425.27,540.18 425.7,540.19 426.13,540.1 426.55,540.07 426.98,540.18 427.41,540.14 427.83,540.36 428.26,540.14 428.68,540.06 429.11,540.18 429.54,539.85 429.96,540.02 430.39,540.13 430.82,540.3 431.24,540.04 431.67,539.86 432.1,540.47 432.52,540.23 432.95,539.99 433.38,540.03 433.8,540.28 434.23,539.74 434.65,540.28 435.08,540.03 435.51,540.34 435.93,540.01 436.36,540.27 436.79,540.07 437.21,539.86 437.64,539.96 438.07,539.6 438.49,540.11 438.92,540.16 439.34,539.57 439.77,540.05 440.2,540.26 440.62,540.15 441.05,540.17 441.48,540.43 441.9,540.21 442.33,540.3 442.76,540.36 443.18,539.88 443.61,540.09 444.04,539.83 444.46,539.95 444.89,540.01 445.31,540.03 445.74,539.93 446.17,540.16" fill="none" stroke="#ff9f1c" stroke-width="1.25" stroke-linejoin="round"/>
<polyline points="265.8,552.6 266.23,552.57 266.65,552.29 267.08,552.26 267.51,552.32 267.93,552.51 268.36,552.17 268.78,552.48 269.21,552.38 269.64,552.67 270.06,552.52 270.49,552.63 270.92,552.42 271.34,552.2 271.77,552.32 272.2,552.51 272.62,552.34 273.05,552.25 273.48,552.51 273.9,552.65 274.33,552.17 274.75,552.37 275.18,552.46 275.61,552.5 276.03,552.21 276.46,552.41 276.89,552.23 277.31,552.15 277.74,552.33 278.17,552.54 278.59,552.32 279.02,552.42 279.44,552.21 279.87,552.22 280.3,552.46 280.72,552.61 281.15,552.46 281.58,552.12 282,552.05 282.43,552.21 282.86,552.33 283.28,552.33 283.71,552.44 284.14,552.48 284.56,552.43 284.99,552.79 285.41,552.65 285.84,552.68 286.27,552.51 286.69,552.73 287.12,552.62 287.55,552.51 287.97,552.16 288.4,552.42 288.83,552.3 289.25,552.32 289.68,552.1 290.1,552.28 290.53,552.26 290.96,552.06 291.38,552.33 291.81,552.67 292.24,552.42 292.66,552.44 293.09,552.45 293.52,552.52 293.94,552.64 294.37,552.24 294.8,552.43 295.22,552.56 295.65,552.21 296.07,552.59 296.5,552.33 296.93,552.26 297.35,552.07 297.78,552.31 298.21,552.57 298.63,552.41 299.06,552.34 299.49,552.59 299.91,552.22 300.34,552.78 300.76,552.77 301.19,552.47 301.62,552.24 302.04,552.41 302.47,552.45 302.9,552.33 303.32,552.42 303.75,552.41 304.18,552.02 304.6,552.51 305.03,552.35 305.46,552.26 305.88,552.37 306.31,552.53 306.73,552.39 307.16,552.52 307.59,552.51 308.01,552.3 308.44,552.24 308.87,552.18 309.29,552.56 309.72,552.43 310.15,552.16 310.57,552.31 311,552.14 311.42,552.45 311.85,552.71 312.28,552.42 312.7,552.37 313.13,552.48 313.56,552.1 313.98,552.09 314.41,551.96 314.84,552.47 315.26,552.3 315.69,552.18 316.12,552.35 316.54,552.36 316.97,552.29 317.39,551.99 317.82,552.26 318.25,552.32 318.67,552.32 319.1,552.07 319.53,552.07 319.95,552.44 320.38,552.16 320.81,552.14 321.23,551.95 321.66,552.34 322.08,552.46 322.51,552.14 322.94,552.18 323.36,551.96 323.79,552.27 324.22,552.11 324.64,551.6 325.07,551.22 325.5,550.78 325.92,550.09 326.35,549.84 326.78,550.21 327.2,551.07 327.63,551.31 328.05,552.1 328.48,552.01 328.91,551.8 329.33,551.91 329.76,551.99 330.19,552.25 330.61,552.16 331.04,551.77 331.47,551.93 331.89,552.03 332.32,552.18 332.74,552.7 333.17,552.21 333.6,552.17 334.02,552.12 334.45,551.91 334.88,552.19 335.3,552.35 335.73,552.16 336.16,552.17 336.58,552.12 337.01,552.31 337.44,552.39 337.86,552.14 338.29,551.97 338.71,552.2 339.14,551.98 339.57,551.72 339.99,551.99 340.42,551.92 340.85,552.02 341.27,551.6 341.7,550.91 342.13,550.43 342.55,550 342.98,550.24 343.4,550.9 343.83,551.38 344.26,551.89 344.68,551.83 345.11,552.09 345.54,552.07 345.96,552.17 346.39,552.43 346.82,552.3 347.24,552.62 347.67,552.3 348.1,552.62 348.52,552.54 348.95,552.54 349.37,552.64 349.8,552.27 350.23,552.32 350.65,552.39 351.08,552.47 351.51,552.47 351.93,552.37 352.36,552.23 352.79,552.47 353.21,552.13 353.64,552.1 354.06,552.69 354.49,552.49 354.92,552.37 355.34,552.65 355.77,552.49 356.2,552.24 356.62,552.3 357.05,552.09 357.48,552.07 357.9,552.53 358.33,552.22 358.76,552.38 359.18,552.37 359.61,552.42 360.03,552.2 360.46,552.23 360.89,552.38 361.31,552.23 361.74,552.23 362.17,552.34 362.59,552.32 363.02,552.26 363.45,552.17 363.87,552.07 364.3,551.96 364.72,552.29 365.15,552.34 365.58,552.19 366,551.74 366.43,552.28 366.86,552.14 367.28,552.08 367.71,551.88 368.14,552.1 368.56,551.88 368.99,551.99 369.42,551.61 369.84,551.91 370.27,551.72 370.69,551.31 371.12,551.12 371.55,550.94 371.97,550.35 372.4,550.06 372.83,548.77 373.25,547.08 373.68,544.59 374.11,541.46 374.53,540.79 374.96,543.63 375.38,546.1 375.81,548.15 376.24,549.52 376.66,550.27 377.09,550.71 377.52,551.17 377.94,551.45 378.37,551.95 378.8,551.65 379.22,551.71 379.65,551.73 380.08,551.91 380.5,551.99 380.93,552.08 381.35,552.05 381.78,552.18 382.21,552.12 382.63,552.14 383.06,552.13 383.49,552.3 383.91,552.41 384.34,552.67 384.77,552.48 385.19,552.22 385.62,552.13 386.04,552.27 386.47,552.57 386.9,552.26 387.32,552.17 387.75,552.21 388.18,552.07 388.6,552.14 389.03,552.07 389.46,552.16 389.88,552.16 390.31,552.37 390.74,552.37 391.16,552.15 391.59,552.03 392.01,552.06 392.44,552.2 392.87,551.91 393.29,551.78 393.72,552.13 394.15,552.41 394.57,552.47 395,552.16 395.43,552.46 395.85,552.11 396.28,552 396.7,551.89 397.13,552.03 397.56,552.06 397.98,551.7 398.41,551.69 398.84,551.3 399.26,550.09 399.69,549.17 400.12,547.26 400.54,546.15 400.97,546.68 401.4,548.25 401.82,549.66 402.25,550.49 402.67,551.45 403.1,551.55 403.53,551.73 403.95,551.86 404.38,552.1 404.81,552.11 405.23,551.99 405.66,552.12 406.09,552.5 406.51,551.99 406.94,552.03 407.36,552.11 407.79,552.02 408.22,552.11 408.64,552.28 409.07,552.35 409.5,552.44 409.92,552.46 410.35,552.65 410.78,552.75 411.2,552.54 411.63,552.25 412.06,552.4 412.48,552.1 412.91,552.4 413.33,552.26 413.76,552.29 414.19,552.33 414.61,552.4 415.04,552.28 415.47,552.24 415.89,552.5 416.32,552.16 416.75,552.36 417.17,552.25 417.6,552.23 418.02,552.34 418.45,552.03 418.88,552.34 419.3,552.07 419.73,552.14 420.16,552.54 420.58,552.31 421.01,552.3 421.44,552.49 421.86,552.5 422.29,552.16 422.72,552.43 423.14,552.35 423.57,552.41 423.99,552.14 424.42,552.37 424.85,552.74 425.27,552.59 425.7,552.52 426.13,552.23 426.55,552.5 426.98,552.26 427.41,552.29 427.83,552.46 428.26,552.38 428.68,552.74 429.11,552.36 429.54,552.52 429.96,552.32 430.39,552.56 430.82,552.46 431.24,552.49 431.67,552.32 432.1,552.61 432.52,552.8 432.95,552.71 433.38,552.45 433.8,552.53 434.23,552.17 434.65,552.42 435.08,552.59 435.51,552.49 435.93,552.38 436.36,552.33 436.79,552.45 437.21,552.23 437.64,552.08 438.07,552.36 438.49,552.62 438.92,552.19 439.34,552.26 439.77,552.53 440.2,552.01 440.62,552.04 441.05,552.09 441.48,552.09 441.9,552.25 442.33,552.03 442.76,552.07 443.18,552.62 443.61,552.29 444.04,552.71 444.46,552.58 444.89,552.45 445.31,552.53 445.74,552.55 446.17,552.5" fill="none" stroke="#3fba74" stroke-width="1.25" stroke-linejoin="round"/>
<polyline points="265.8,566.27 266.23,566.27 266.65,566.43 267.08,566.3 267.51,566.45 267.93,566.25 268.36,566.36 268.78,566.2 269.21,566.07 269.64,566.34 270.06,566.11 270.49,566.46 270.92,566.46 271.34,566.46 271.77,566.49 272.2,565.95 272.62,566.18 273.05,566.23 273.48,566.31 273.9,566.29 274.33,566.15 274.75,566.12 275.18,566.32 275.61,566.31 276.03,566.26 276.46,566.42 276.89,566.13 277.31,565.91 277.74,566.06 278.17,566.34 278.59,566.04 279.02,566.33 279.44,566.16 279.87,566.4 280.3,566.43 280.72,566.29 281.15,566.21 281.58,566.16 282,566.06 282.43,566.06 282.86,566.07 283.28,566.4 283.71,566.34 284.14,566.41 284.56,566.4 284.99,566.32 285.41,566.26 285.84,566.29 286.27,566.13 286.69,566.27 287.12,566 287.55,566.29 287.97,566.33 288.4,566.11 288.83,566.38 289.25,566.39 289.68,566.26 290.1,566.46 290.53,566.26 290.96,566.32 291.38,566.46 291.81,566.31 292.24,566.17 292.66,566.29 293.09,566.52 293.52,566.44 293.94,566.21 294.37,566.34 294.8,566.12 295.22,566.57 295.65,566.19 296.07,566.22 296.5,566.28 296.93,566.37 297.35,566.51 297.78,566.55 298.21,566.42 298.63,566.04 299.06,565.97 299.49,566.14 299.91,566 300.34,566.04 300.76,565.96 301.19,566.17 301.62,565.99 302.04,566.35 302.47,566.04 302.9,566.42 303.32,566.13 303.75,566.03 304.18,566.18 304.6,566.35 305.03,565.89 305.46,566.2 305.88,566.14 306.31,566.29 306.73,566.08 307.16,566.33 307.59,566.13 308.01,565.96 308.44,566.25 308.87,566.2 309.29,566.14 309.72,566.21 310.15,565.94 310.57,566.23 311,566.25 311.42,566.11 311.85,566.24 312.28,566.22 312.7,566.2 313.13,566.44 313.56,566.3 313.98,566.39 314.41,566.29 314.84,566.14 315.26,566.1 315.69,566.22 316.12,566.21 316.54,566.29 316.97,566.23 317.39,566.29 317.82,566.16 318.25,566.3 318.67,566.29 319.1,566 319.53,566.18 319.95,566.03 320.38,566.26 320.81,566.1 321.23,566.62 321.66,566.28 322.08,565.67 322.51,565.98 322.94,566.04 323.36,565.55 323.79,566.02 324.22,565.7 324.64,565.52 325.07,565.34 325.5,564.63 325.92,564.53 326.35,564.73 326.78,564.67 327.2,564.81 327.63,565.32 328.05,565.71 328.48,565.85 328.91,566.08 329.33,566.12 329.76,566.13 330.19,566.24 330.61,566.16 331.04,565.95 331.47,566.27 331.89,566.12 332.32,566.1 332.74,566.24 333.17,566.33 333.6,565.92 334.02,566.18 334.45,565.88 334.88,566.37 335.3,565.88 335.73,566.23 336.16,566.33 336.58,566.26 337.01,566.31 337.44,566.24 337.86,565.72 338.29,566.21 338.71,566.05 339.14,565.91 339.57,565.76 339.99,566.12 340.42,565.33 340.85,565.42 341.27,565.17 341.7,564.85 342.13,564.45 342.55,564.02 342.98,563.9 343.4,564.79 343.83,564.91 344.26,565.45 344.68,565.83 345.11,565.93 345.54,566.04 345.96,566.31 346.39,565.99 346.82,566.19 347.24,566.53 347.67,566.11 348.1,566.23 348.52,566.12 348.95,565.95 349.37,566.55 349.8,566.16 350.23,566.23 350.65,566.26 351.08,566.05 351.51,566.15 351.93,566.38 352.36,566.17 352.79,566.56 353.21,566.37 353.64,566.35 354.06,566.16 354.49,565.93 354.92,566.04 355.34,566.18 355.77,566.02 356.2,566.12 356.62,566.12 357.05,565.69 357.48,565.92 357.9,565.84 358.33,566.2 358.76,566.11 359.18,566.11 359.61,566.08 360.03,565.94 360.46,566.19 360.89,565.97 361.31,565.97 361.74,566 362.17,565.9 362.59,565.91 363.02,565.99 363.45,566.24 363.87,566.11 364.3,566.2 364.72,565.7 365.15,566.24 365.58,565.73 366,565.79 366.43,565.57 366.86,565.59 367.28,565.51 367.71,565.51 368.14,565.58 368.56,565.56 368.99,565.07 369.42,564.99 369.84,565.01 370.27,564.54 370.69,564.41 371.12,564.16 371.55,563.45 371.97,563.03 372.4,562.17 372.83,560.67 373.25,559.08 373.68,557.26 374.11,555.85 374.53,555.37 374.96,556.81 375.38,558.5 375.81,560.44 376.24,561.92 376.66,562.43 377.09,563.3 377.52,564.17 377.94,564.37 378.37,564.7 378.8,565.08 379.22,565.28 379.65,565.31 380.08,565.68 380.5,565.56 380.93,565.75 381.35,565.72 381.78,565.65 382.21,566 382.63,565.71 383.06,565.51 383.49,565.79 383.91,566.19 384.34,566.05 384.77,566.08 385.19,566.1 385.62,565.84 386.04,565.93 386.47,565.77 386.9,566.12 387.32,566.21 387.75,566.08 388.18,566.18 388.6,565.88 389.03,566.02 389.46,565.97 389.88,565.97 390.31,566.06 390.74,566.05 391.16,566.26 391.59,566.14 392.01,566.08 392.44,565.85 392.87,566.38 393.29,565.98 393.72,565.94 394.15,566.06 394.57,566.22 395,565.91 395.43,565.72 395.85,565.8 396.28,565.56 396.7,565.31 397.13,565.72 397.56,565.52 397.98,565.38 398.41,565.13 398.84,564.57 399.26,563.8 399.69,562.87 400.12,562 400.54,561.42 400.97,561.9 401.4,562.73 401.82,563.44 402.25,564.28 402.67,564.71 403.1,565.1 403.53,565.21 403.95,565.35 404.38,565.62 404.81,565.4 405.23,565.61 405.66,565.87 406.09,565.98 406.51,565.93 406.94,565.87 407.36,565.86 407.79,565.94 408.22,565.98 408.64,565.91 409.07,566.13 409.5,565.66 409.92,566.17 410.35,566.16 410.78,565.76 411.2,566.08 411.63,566.28 412.06,566.46 412.48,566.21 412.91,566.18 413.33,566.03 413.76,566.45 414.19,566.29 414.61,566.11 415.04,566 415.47,566.49 415.89,566.17 416.32,566.17 416.75,566.08 417.17,566.38 417.6,566.51 418.02,566.29 418.45,565.84 418.88,566.06 419.3,566.45 419.73,566.2 420.16,566.14 420.58,566.35 421.01,566.33 421.44,566.33 421.86,566.36 422.29,566.48 422.72,566.47 423.14,566.39 423.57,566.43 423.99,566.31 424.42,566.18 424.85,566.11 425.27,566.2 425.7,566.12 426.13,566.22 426.55,566.23 426.98,566.01 427.41,565.96 427.83,565.77 428.26,565.92 428.68,566.02 429.11,566 429.54,566.35 429.96,566.05 430.39,566.1 430.82,566.05 431.24,566.08 431.67,566.18 432.1,566.11 432.52,566 432.95,566.09 433.38,566.23 433.8,566.17 434.23,566.28 434.65,566.05 435.08,566.26 435.51,565.94 435.93,565.91 436.36,566.08 436.79,565.92 437.21,566.34 437.64,566.39 438.07,566.16 438.49,566.63 438.92,566.26 439.34,566.28 439.77,566.32 440.2,566.44 440.62,566.25 441.05,566.39 441.48,566.11 441.9,566.22 442.33,566.25 442.76,566.28 443.18,566.41 443.61,566.11 444.04,566.01 444.46,566.03 444.89,566.14 445.31,565.99 445.74,566.03 446.17,566.14" fill="none" stroke="#1c9ef2" stroke-width="1.25" stroke-linejoin="round"/>
<polyline points="265.8,578.84 266.23,579.06 266.65,579.1 267.08,579.2 267.51,578.92 267.93,579.03 268.36,578.98 268.78,578.8 269.21,579.14 269.64,579.13 270.06,579 270.49,579.11 270.92,578.84 271.34,578.9 271.77,578.85 272.2,578.83 272.62,578.76 273.05,578.94 273.48,578.83 273.9,578.71 274.33,578.76 274.75,578.78 275.18,578.59 275.61,578.99 276.03,578.93 276.46,578.85 276.89,578.6 277.31,578.93 277.74,578.78 278.17,579.11 278.59,578.95 279.02,578.61 279.44,578.81 279.87,578.8 280.3,578.93 280.72,578.94 281.15,579.24 281.58,579.27 282,578.98 282.43,578.74 282.86,578.96 283.28,578.85 283.71,579.19 284.14,578.64 284.56,578.62 284.99,578.74 285.41,578.78 285.84,579.17 286.27,579.13 286.69,578.93 287.12,578.98 287.55,579.15 287.97,578.66 288.4,578.84 288.83,579.5 289.25,579.15 289.68,579.03 290.1,579.5 290.53,579.04 290.96,579.14 291.38,579.21 291.81,579.19 292.24,578.89 292.66,578.96 293.09,579.01 293.52,578.97 293.94,578.91 294.37,578.9 294.8,578.95 295.22,578.83 295.65,579.05 296.07,578.95 296.5,578.96 296.93,579.22 297.35,578.89 297.78,578.91 298.21,578.89 298.63,578.77 299.06,578.75 299.49,578.88 299.91,578.74 300.34,578.75 300.76,578.91 301.19,578.86 301.62,578.61 302.04,578.7 302.47,578.87 302.9,578.81 303.32,578.69 303.75,578.64 304.18,579.01 304.6,578.92 305.03,578.99 305.46,578.87 305.88,579.11 306.31,578.65 306.73,578.58 307.16,578.75 307.59,578.73 308.01,578.93 308.44,578.98 308.87,578.76 309.29,579.09 309.72,579.1 310.15,579.28 310.57,578.53 311,578.76 311.42,578.84 311.85,579.03 312.28,579.32 312.7,579.04 313.13,578.75 313.56,578.8 313.98,578.83 314.41,578.8 314.84,578.75 315.26,579.17 315.69,579.18 316.12,578.92 316.54,578.95 316.97,578.64 317.39,579.05 317.82,578.91 318.25,578.93 318.67,578.99 319.1,578.85 319.53,578.86 319.95,579.22 320.38,579.05 320.81,579.02 321.23,578.9 321.66,578.8 322.08,579.04 322.51,578.95 322.94,578.83 323.36,578.81 323.79,579.1 324.22,579.1 324.64,579.26 325.07,579.09 325.5,579.34 325.92,578.9 326.35,579.12 326.78,579.21 327.2,579.1 327.63,579.05 328.05,578.99 328.48,579.1 328.91,579.14 329.33,578.98 329.76,579.18 330.19,578.78 330.61,578.89 331.04,578.65 331.47,578.7 331.89,578.9 332.32,578.42 332.74,578.88 333.17,579.01 333.6,578.7 334.02,578.89 334.45,578.82 334.88,578.75 335.3,578.64 335.73,578.7 336.16,578.31 336.58,578.67 337.01,578.93 337.44,578.46 337.86,578.2 338.29,578.29 338.71,578.31 339.14,578.37 339.57,578.29 339.99,578.14 340.42,578.01 340.85,577.88 341.27,577.85 341.7,577.67 342.13,577.37 342.55,577.31 342.98,577.75 343.4,577.65 343.83,577.78 344.26,577.97 344.68,578.12 345.11,578.28 345.54,578.26 345.96,578.67 346.39,578.61 346.82,578.27 347.24,578.97 347.67,578.73 348.1,578.52 348.52,578.47 348.95,578.5 349.37,578.63 349.8,578.61 350.23,578.79 350.65,578.87 351.08,578.75 351.51,578.61 351.93,578.77 352.36,578.99 352.79,578.77 353.21,579.13 353.64,579.06 354.06,578.69 354.49,579.01 354.92,578.94 355.34,578.56 355.77,578.75 356.2,579.02 356.62,578.44 357.05,578.72 357.48,578.79 357.9,578.68 358.33,579.02 358.76,579.02 359.18,578.7 359.61,579.3 360.03,578.8 360.46,578.73 360.89,578.71 361.31,578.56 361.74,578.77 362.17,578.88 362.59,578.7 363.02,578.91 363.45,578.78 363.87,578.5 364.3,578.68 364.72,578.59 365.15,578.91 365.58,578.99 366,578.7 366.43,578.42 366.86,578.82 367.28,578.52 367.71,578.71 368.14,578.46 368.56,578.61 368.99,578.14 369.42,578.24 369.84,578.21 370.27,578.17 370.69,577.91 371.12,577.82 371.55,577.43 371.97,576.72 372.4,576.22 372.83,574.93 373.25,573.43 373.68,570.89 374.11,568.3 374.53,567.76 374.96,570.13 375.38,572.88 375.81,574.72 376.24,576.23 376.66,576.84 377.09,576.94 377.52,577.74 377.94,577.98 378.37,578.27 378.8,578.36 379.22,578.62 379.65,578.42 380.08,578.58 380.5,578.6 380.93,578.76 381.35,578.69 381.78,578.41 382.21,578.58 382.63,578.56 383.06,578.27 383.49,578.9 383.91,578.44 384.34,578.72 384.77,578.56 385.19,578.75 385.62,578.52 386.04,578.85 386.47,578.41 386.9,578.8 387.32,578.55 387.75,578.61 388.18,578.57 388.6,578.79 389.03,578.67 389.46,578.73 389.88,578.71 390.31,578.73 390.74,578.96 391.16,578.9 391.59,578.81 392.01,578.64 392.44,578.73 392.87,578.52 393.29,578.73 393.72,578.36 394.15,578.58 394.57,578.72 395,578.39 395.43,578.51 395.85,578.48 396.28,578.15 396.7,578.46 397.13,578.15 397.56,578.11 397.98,577.73 398.41,577.62 398.84,577.07 399.26,576.45 399.69,575.17 400.12,573.6 400.54,572.49 400.97,572.89 401.4,574.67 401.82,575.85 402.25,576.77 402.67,577.03 403.1,578.06 403.53,577.96 403.95,578.26 404.38,578.11 404.81,578.1 405.23,578.37 405.66,578.29 406.09,578.19 406.51,578.44 406.94,578.31 407.36,578.52 407.79,578.65 408.22,578.8 408.64,579.02 409.07,578.94 409.5,578.53 409.92,578.92 410.35,578.75 410.78,578.85 411.2,578.75 411.63,578.88 412.06,578.8 412.48,579.03 412.91,578.81 413.33,578.63 413.76,578.76 414.19,578.96 414.61,578.9 415.04,578.79 415.47,578.89 415.89,578.9 416.32,578.85 416.75,578.92 417.17,578.86 417.6,578.88 418.02,578.77 418.45,578.82 418.88,578.36 419.3,578.72 419.73,578.92 420.16,578.84 420.58,578.63 421.01,578.79 421.44,578.9 421.86,578.65 422.29,578.65 422.72,578.73 423.14,579.03 423.57,579.23 423.99,579.02 424.42,578.92 424.85,579.09 425.27,579.06 425.7,578.98 426.13,578.94 426.55,578.9 426.98,578.99 427.41,578.86 427.83,578.78 428.26,579.08 428.68,578.56 429.11,578.92 429.54,579.19 429.96,579.3 430.39,578.84 430.82,579.15 431.24,578.86 431.67,578.68 432.1,579.17 432.52,579.05 432.95,578.84 433.38,578.96 433.8,578.87 434.23,578.89 434.65,578.85 435.08,579.16 435.51,578.81 435.93,578.75 436.36,579.33 436.79,578.86 437.21,578.86 437.64,579.11 438.07,578.92 438.49,578.67 438.92,578.84 439.34,578.92 439.77,578.87 440.2,579.16 440.62,578.73 441.05,578.82 441.48,578.9 441.9,579.07 442.33,579.27 442.76,578.99 443.18,578.68 443.61,578.7 444.04,578.88 444.46,578.99 444.89,579.16 445.31,579.2 445.74,578.98 446.17,578.92" fill="none" stroke="#8c8c8c" stroke-width="1.25" stroke-linejoin="round"/>
<rect x="325" y="460" width="4.2" height="111.6" fill="url(#g_band)" stroke="none" stroke-width="1"/>
<path d="M265.6 449 H446.2 V587.4 H265.6 Z" fill="none" stroke="#000" stroke-width="1.2"/>
<line x1="282.2" y1="587.4" x2="282.2" y2="591" stroke="#000" stroke-width="1.1"/>
<text transform="translate(282.2 600.7) skewX(0.06) scale(0.1 0.1)" font-size="100" text-anchor="middle" fill="#000" stroke="#000" stroke-width="1">700</text>
<line x1="315" y1="587.4" x2="315" y2="591" stroke="#000" stroke-width="1.1"/>
<text transform="translate(315 600.7) skewX(0.06) scale(0.1 0.1)" font-size="100" text-anchor="middle" fill="#000" stroke="#000" stroke-width="1">800</text>
<line x1="347.8" y1="587.4" x2="347.8" y2="591" stroke="#000" stroke-width="1.1"/>
<text transform="translate(347.8 600.7) skewX(0.06) scale(0.1 0.1)" font-size="100" text-anchor="middle" fill="#000" stroke="#000" stroke-width="1">900</text>
<line x1="380.6" y1="587.4" x2="380.6" y2="591" stroke="#000" stroke-width="1.1"/>
<text transform="translate(380.6 600.7) skewX(0.06) scale(0.1 0.1)" font-size="100" text-anchor="middle" fill="#000" stroke="#000" stroke-width="1">1000</text>
<line x1="413.4" y1="587.4" x2="413.4" y2="591" stroke="#000" stroke-width="1.1"/>
<text transform="translate(413.4 600.7) skewX(0.06) scale(0.1 0.1)" font-size="100" text-anchor="middle" fill="#000" stroke="#000" stroke-width="1">1100</text>
<line x1="446.2" y1="587.4" x2="446.2" y2="591" stroke="#000" stroke-width="1.1"/>
<text transform="translate(446.2 600.7) skewX(0.06) scale(0.1 0.1)" font-size="100" text-anchor="middle" fill="#000" stroke="#000" stroke-width="1">1200</text>
<line x1="265.8" y1="587.4" x2="265.8" y2="589.4" stroke="#000" stroke-width="1.1"/>
<line x1="298.6" y1="587.4" x2="298.6" y2="589.4" stroke="#000" stroke-width="1.1"/>
<line x1="331.4" y1="587.4" x2="331.4" y2="589.4" stroke="#000" stroke-width="1.1"/>
<line x1="364.2" y1="587.4" x2="364.2" y2="589.4" stroke="#000" stroke-width="1.1"/>
<line x1="397" y1="587.4" x2="397" y2="589.4" stroke="#000" stroke-width="1.1"/>
<line x1="429.8" y1="587.4" x2="429.8" y2="589.4" stroke="#000" stroke-width="1.1"/>
<text transform="translate(356.2 614.4) skewX(0.06) scale(0.1 0.1)" font-size="100" text-anchor="middle" fill="#000" stroke="#000" stroke-width="1"><tspan>Raman shift (cm</tspan><tspan dy="-40" font-size="66">−1</tspan><tspan dy="40">)</tspan></text>
<text transform="translate(256.9 518) rotate(-90) skewX(0.06) scale(0.1 0.1)" font-size="100" text-anchor="middle" fill="#000" stroke="#000" stroke-width="1">Intensity (arb. u.)</text>
<text transform="translate(268.2 523) skewX(0.06) scale(0.1 0.1)" font-size="62" text-anchor="start" fill="#262626" stroke="#262626" stroke-width="2">FeNi−N−C/PMS</text>
<text transform="translate(268.2 537.5) skewX(0.06) scale(0.1 0.1)" font-size="62" text-anchor="start" fill="#262626" stroke="#262626" stroke-width="2">FeCu−N−C/PMS</text>
<text transform="translate(268.2 549.7) skewX(0.06) scale(0.1 0.1)" font-size="62" text-anchor="start" fill="#262626" stroke="#262626" stroke-width="2">FeMn−N−C/PMS</text>
<text transform="translate(268.2 563.2) skewX(0.06) scale(0.1 0.1)" font-size="62" text-anchor="start" fill="#262626" stroke="#262626" stroke-width="2">Fe−N−C/PMS</text>
<text transform="translate(268.2 575.4) skewX(0.06) scale(0.1 0.1)" font-size="62" text-anchor="start" fill="#262626" stroke="#262626" stroke-width="2">PMS alone</text>
<text transform="translate(310.9 461.3) skewX(0.06) scale(0.1 0.1)" font-size="62" text-anchor="start" fill="#ff5c5c" stroke="#ff5c5c" stroke-width="1.2"><tspan>PMS</tspan><tspan dy="-24.8" font-size="40.92">−</tspan></text>
<text transform="translate(313.8 573.2) skewX(0.06) scale(0.1 0.1)" font-size="62" text-anchor="start" fill="#ff5c5c" stroke="#ff5c5c" stroke-width="1.2">834</text>
<text transform="translate(343.8 460.4) skewX(0.06) scale(0.1 0.1)" font-size="62" text-anchor="start" fill="#262626" stroke="#262626" stroke-width="2">O−O</text>
<text transform="translate(358.7 458) skewX(0.06) scale(0.1 0.1)" font-size="64" text-anchor="start" fill="#262626" stroke="#262626" stroke-width="2"><tspan>SO</tspan><tspan dy="14.08" font-size="42.24">4</tspan><tspan dy="-39.68" font-size="42.24">2−</tspan></text>
<text transform="translate(385.8 460) skewX(0.06) scale(0.1 0.1)" font-size="62" text-anchor="start" fill="#262626" stroke="#262626" stroke-width="2"><tspan>SO</tspan><tspan dy="13.64" font-size="40.92">3</tspan><tspan dy="-38.44" font-size="40.92">−</tspan></text>
<text transform="translate(440.2 458.7) skewX(0.06) scale(0.1 0.1)" font-size="62" text-anchor="end" fill="#262626" stroke="#262626" stroke-width="2">w/ PhOH</text>
<text transform="translate(440.2 522.6) skewX(0.06) scale(0.1 0.1)" font-size="62" text-anchor="end" fill="#262626" stroke="#262626" stroke-width="2">w/o PhOH</text>
<text transform="translate(231.8 457.8) skewX(0.06) scale(0.1 0.1)" font-size="129" text-anchor="start" font-weight="bold" fill="#000" stroke="#000" stroke-width="4">f</text>
<defs>
<linearGradient id="w_red" x1="0" y1="0" x2="1" y2="0"><stop offset="0" stop-color="#d94c47"/><stop offset="0.4" stop-color="#b83e39"/><stop offset="0.7" stop-color="#8f2e2a"/><stop offset="1" stop-color="#86302c"/></linearGradient>
<linearGradient id="w_org" x1="0" y1="0" x2="1" y2="0"><stop offset="0" stop-color="#96620c"/><stop offset="0.6" stop-color="#85560a"/><stop offset="1" stop-color="#7a4e08"/></linearGradient>
<linearGradient id="w_redL" x1="0" y1="0" x2="1" y2="0"><stop offset="0" stop-color="#e05250"/><stop offset="1" stop-color="#c8423f"/></linearGradient>
</defs>
<rect x="487.4" y="449.1" width="21.4" height="9.8" fill="#5ecb90" stroke="none" stroke-width="1"/>
<rect x="565.9" y="449.1" width="21.9" height="9.8" fill="#2fa5f4" stroke="none" stroke-width="1"/>
<rect x="618.4" y="449.1" width="21.6" height="9.8" fill="#ff6868" stroke="none" stroke-width="1"/>
<rect x="487.4" y="462.5" width="21.4" height="10.2" fill="#fdb130" stroke="none" stroke-width="1"/>
<text transform="translate(512.6 457.5) skewX(0.06) scale(0.1 0.1)" font-size="102" text-anchor="start" fill="#000" stroke="#000" stroke-width="1">Radicals</text>
<text transform="translate(512.6 471.2) skewX(0.06) scale(0.1 0.1)" font-size="102" text-anchor="start" fill="#000" stroke="#000" stroke-width="1">Electron transfer</text>
<text transform="translate(591 457.5) skewX(0.06) scale(0.1 0.1)" font-size="102" text-anchor="start" fill="#000" stroke="#000" stroke-width="1"><tspan dy="-40.8" font-size="71.4">1</tspan><tspan dy="40.8">O</tspan><tspan dy="22.44" font-size="71.4">2</tspan></text>
<text transform="translate(643.6 457.5) skewX(0.06) scale(0.1 0.1)" font-size="102" text-anchor="start" fill="#000" stroke="#000" stroke-width="1"><tspan>Fe</tspan><tspan dy="-40.8" font-size="71.4">IV</tspan><tspan dy="40.8">=O</tspan></text>
<text transform="translate(464.6 455.4) skewX(0.06) scale(0.1 0.1)" font-size="129" text-anchor="start" font-weight="bold" fill="#000" stroke="#000" stroke-width="4">g</text>
<clipPath id="clip_p1"><path d="M534.5 502.3 L534.5 521.2 A44.5 18.9 0 1 0 493.91 494.55 Z"/></clipPath>
<path d="M493.91 494.55 L534.5 502.3 L534.5 511.6 L493.91 503.85 Z" fill="#86590f"/>
<path d="M534.5 521.2 A44.5 18.9 0 0 0 579 502.3 L579 511.6 A44.5 18.9 0 0 1 534.5 530.5 Z" fill="url(#w_org)"/>
<path d="M534.5 502.3 L534.5 521.2 A44.5 18.9 0 1 0 493.91 494.55 Z" fill="#ffb43a"/>
<ellipse cx="534.5" cy="510.5" rx="44.5" ry="18.9" fill="#ffa410" clip-path="url(#clip_p1)"/>
<path d="M534.5 521.2 A44.5 18.9 0 0 0 579 502.3" fill="none" stroke="#ffe0a0" stroke-opacity="0.6" stroke-width="0.6"/>
<clipPath id="clip_p1r"><path d="M526.6 504.4 L486.4 496.29 A44.5 18.9 0 0 0 509.79 521.9 Z"/></clipPath>
<path d="M482.1 504.4 A44.5 18.9 0 0 0 509.79 521.9 L509.79 531.7 A44.5 18.9 0 0 1 482.1 514.2 Z" fill="url(#w_redL)"/>
<path d="M509.79 521.9 L526.6 504.4 L526.6 514.2 L509.79 531.7 Z" fill="#d24946" stroke="#fff" stroke-opacity="0.35" stroke-width="0.4"/>
<path d="M526.6 504.4 L486.4 496.29 A44.5 18.9 0 0 0 509.79 521.9 Z" fill="#ff5952"/>
<g clip-path="url(#clip_p1r)">
<path d="M528.6 504.8 L480.4 495.09 L480.4 505.19 L528.6 513.7 Z" fill="#e04a49"/>
<path d="M486.4 496.29 A44.5 18.9 0 0 0 482.34 506.38 L482.1 513.3 A44.5 18.9 0 0 1 486.4 505.19 Z" fill="#ee5c5b"/>
</g>
<path d="M526.6 504.4 L486.4 496.29 A44.5 18.9 0 0 0 509.79 521.9 Z" fill="none" stroke="#ffb8b4" stroke-opacity="0.55" stroke-width="0.5"/>
<path d="M512.87 522.55 A44.5 18.9 0 0 0 524.29 523.77 L524.29 533.47 A44.5 18.9 0 0 1 512.87 532.25 Z" fill="#176dab" stroke="#fff" stroke-opacity="0.7" stroke-width="0.5" stroke-linejoin="round"/>
<path d="M529.4 505.4 L512.87 522.55 A44.5 18.9 0 0 0 524.29 523.77 Z" fill="#1f9df0" stroke="#fff" stroke-opacity="0.7" stroke-width="0.5" stroke-linejoin="round"/>
<path d="M525.25 524.4 A44.5 18.9 0 0 0 529.9 524.5 L529.9 534.4 A44.5 18.9 0 0 1 525.25 534.3 Z" fill="#2b8a58" stroke="#fff" stroke-opacity="0.7" stroke-width="0.5" stroke-linejoin="round"/>
<path d="M529.8 505.9 L525.25 524.4 A44.5 18.9 0 0 0 529.9 524.5 Z" fill="#3ec47f" stroke="#fff" stroke-opacity="0.7" stroke-width="0.5" stroke-linejoin="round"/>
<text transform="translate(535.2 492.3) skewX(0.06) scale(0.1 0.1)" font-size="74" text-anchor="middle" fill="#fff" fill-opacity="0.88" stroke="#fff" stroke-opacity="0.88" stroke-width="0.5">Fe−N−C</text>
<text transform="translate(550.8 505.9) skewX(0.06) scale(0.1 0.1)" font-size="69" text-anchor="start" fill="#1a0a00" stroke="#1a0a00" stroke-width="2">68.2%</text>
<clipPath id="clip_p2"><ellipse cx="632.1" cy="504.4" rx="48.9" ry="20.7"/></clipPath>
<path d="M583.2 504.4 A48.9 20.7 0 0 0 681 504.4 L681 513.4 A48.9 20.7 0 0 1 583.2 513.4 Z" fill="url(#w_red)"/>
<ellipse cx="632.1" cy="504.4" rx="48.9" ry="20.7" fill="#ff6d6c"/>
<ellipse cx="632.1" cy="515.3" rx="48.9" ry="20.7" fill="#ff4f49" clip-path="url(#clip_p2)"/>
<path d="M583.2 504.4 A48.9 20.7 0 0 0 681 504.4" fill="none" stroke="#ffd0cc" stroke-opacity="0.8" stroke-width="0.6"/>
<path d="M632.1 504.1 L608.94 525.78 L636.79 526.93 Z" fill="#8e2624"/>
<path d="M632.1 504.1 L608.94 525.78 L631.5 509.4 Z" fill="#ff6a66" stroke="#ffe3e0" stroke-width="0.5"/>
<path d="M609.14 526.38 A48.9 20.7 0 0 0 623.61 528.49 L623.61 538.69 A48.9 20.7 0 0 1 609.14 536.58 Z" fill="#176dab" stroke="#fff" stroke-opacity="0.7" stroke-width="0.5" stroke-linejoin="round"/>
<path d="M623.61 528.49 L609.14 536.58 L623.61 538.69 Z" fill="#fff" fill-opacity="0.08"/>
<path d="M624.03 528.52 A48.9 20.7 0 0 0 631.33 528.8 L631.33 539 A48.9 20.7 0 0 1 624.03 538.72 Z" fill="#2b8a58" stroke="#fff" stroke-opacity="0.7" stroke-width="0.5" stroke-linejoin="round"/>
<path d="M631.33 528.8 L624.03 538.72 L631.33 539 Z" fill="#fff" fill-opacity="0.08"/>
<path d="M632.01 528.8 A48.9 20.7 0 0 0 636.19 528.73 L636.19 538.93 A48.9 20.7 0 0 1 632.01 539 Z" fill="#9a660c" stroke="#fff" stroke-opacity="0.7" stroke-width="0.5" stroke-linejoin="round"/>
<path d="M630.75 508.9 L623.82 528.5 L623.82 538.7" fill="none" stroke="#fff" stroke-opacity="0.92" stroke-width="0.72"/>
<path d="M631.75 509 L631.67 528.8 L631.67 539" fill="none" stroke="#fff" stroke-opacity="0.92" stroke-width="0.86"/>
<path d="M630.3 508.9 L609.14 526.38 A48.9 20.7 0 0 0 623.61 528.49 Z" fill="#1f9df0" stroke="#fff" stroke-opacity="0.7" stroke-width="0.5" stroke-linejoin="round"/>
<path d="M630.3 510.9 L609.14 526.38 L616.38 527.43 Z" fill="#fff" fill-opacity="0.06"/>
<path d="M631.2 509 L624.03 528.52 A48.9 20.7 0 0 0 631.33 528.8 Z" fill="#3ec47f" stroke="#fff" stroke-opacity="0.7" stroke-width="0.5" stroke-linejoin="round"/>
<path d="M631.2 511 L624.03 528.52 L627.68 528.66 Z" fill="#fff" fill-opacity="0.06"/>
<path d="M632.3 509.4 L632.01 528.8 A48.9 20.7 0 0 0 636.19 528.73 Z" fill="#ffab12" stroke="#fff" stroke-opacity="0.7" stroke-width="0.5" stroke-linejoin="round"/>
<text transform="translate(632.1 494.6) skewX(0.06) scale(0.1 0.1)" font-size="80.5" text-anchor="middle" fill="#fff" fill-opacity="0.9" stroke="#fff" stroke-opacity="0.9" stroke-width="0.5">FeBi−N−C</text>
<text transform="translate(649.7 510.7) skewX(0.06) scale(0.1 0.1)" font-size="69" text-anchor="start" fill="#1a0000" stroke="#1a0000" stroke-width="2">90.1%</text>
<clipPath id="clip_p3"><ellipse cx="530.5" cy="564.1" rx="48.4" ry="20.8"/></clipPath>
<path d="M482.1 564.1 A48.4 20.8 0 0 0 578.9 564.1 L578.9 573.1 A48.4 20.8 0 0 1 482.1 573.1 Z" fill="url(#w_red)"/>
<ellipse cx="530.5" cy="564.1" rx="48.4" ry="20.8" fill="#ff6d6c"/>
<ellipse cx="530.5" cy="575" rx="48.4" ry="20.8" fill="#ff4f49" clip-path="url(#clip_p3)"/>
<path d="M482.1 564.1 A48.4 20.8 0 0 0 578.9 564.1" fill="none" stroke="#ffd0cc" stroke-opacity="0.8" stroke-width="0.6"/>
<path d="M530.5 563.8 L504.51 584.8 L544.6 585.97 Z" fill="#8e2624"/>
<path d="M530.5 563.8 L504.51 584.8 L529.9 569.1 Z" fill="#ff6a66" stroke="#ffe3e0" stroke-width="0.5"/>
<path d="M504.71 585.4 A48.4 20.8 0 0 0 521.26 588.22 L521.26 598.42 A48.4 20.8 0 0 1 504.71 595.6 Z" fill="#176dab" stroke="#fff" stroke-opacity="0.7" stroke-width="0.5" stroke-linejoin="round"/>
<path d="M521.26 588.22 L504.71 595.6 L521.26 598.42 Z" fill="#fff" fill-opacity="0.08"/>
<path d="M522.01 588.28 A48.4 20.8 0 0 0 529.49 588.6 L529.49 598.8 A48.4 20.8 0 0 1 522.01 598.48 Z" fill="#2b8a58" stroke="#fff" stroke-opacity="0.7" stroke-width="0.5" stroke-linejoin="round"/>
<path d="M529.49 588.6 L522.01 598.48 L529.49 598.8 Z" fill="#fff" fill-opacity="0.08"/>
<path d="M530.92 588.6 A48.4 20.8 0 0 0 544 587.77 L544 597.97 A48.4 20.8 0 0 1 530.92 598.8 Z" fill="#9a660c" stroke="#fff" stroke-opacity="0.7" stroke-width="0.5" stroke-linejoin="round"/>
<path d="M530.92 588.6 L544 587.77 L544 597.97 Z" fill="#000" fill-opacity="0.16"/>
<path d="M529.05 568.5 L521.64 588.25 L521.64 598.45" fill="none" stroke="#fff" stroke-opacity="0.92" stroke-width="0.9"/>
<path d="M530.2 568.8 L530.2 588.6 L530.2 598.8" fill="none" stroke="#fff" stroke-opacity="0.92" stroke-width="1.26"/>
<path d="M528.6 568.5 L504.71 585.4 A48.4 20.8 0 0 0 521.26 588.22 Z" fill="#1f9df0" stroke="#fff" stroke-opacity="0.7" stroke-width="0.5" stroke-linejoin="round"/>
<path d="M528.6 570.5 L504.71 585.4 L512.99 586.81 Z" fill="#fff" fill-opacity="0.06"/>
<path d="M529.5 568.8 L522.01 588.28 A48.4 20.8 0 0 0 529.49 588.6 Z" fill="#3ec47f" stroke="#fff" stroke-opacity="0.7" stroke-width="0.5" stroke-linejoin="round"/>
<path d="M529.5 570.8 L522.01 588.28 L525.75 588.44 Z" fill="#fff" fill-opacity="0.06"/>
<path d="M530.9 568.9 L530.92 588.6 A48.4 20.8 0 0 0 544 587.77 Z" fill="#ffab12" stroke="#fff" stroke-opacity="0.7" stroke-width="0.5" stroke-linejoin="round"/>
<path d="M531.2 570.4 L543.7 587.57 L531.31 580.75 Z" fill="#e2930c" fill-opacity="0.85"/>
<text transform="translate(530.5 554) skewX(0.06) scale(0.1 0.1)" font-size="80.5" text-anchor="middle" fill="#fff" fill-opacity="0.9" stroke="#fff" stroke-opacity="0.9" stroke-width="0.5">FeIn−N−C</text>
<text transform="translate(550.5 569.5) skewX(0.06) scale(0.1 0.1)" font-size="69" text-anchor="start" fill="#1a0000" stroke="#1a0000" stroke-width="2">85.5%</text>
<clipPath id="clip_p4"><ellipse cx="632.1" cy="564.1" rx="48.8" ry="20.8"/></clipPath>
<path d="M583.3 564.1 A48.8 20.8 0 0 0 680.9 564.1 L680.9 573.1 A48.8 20.8 0 0 1 583.3 573.1 Z" fill="url(#w_red)"/>
<ellipse cx="632.1" cy="564.1" rx="48.8" ry="20.8" fill="#ff6d6c"/>
<ellipse cx="632.1" cy="575" rx="48.8" ry="20.8" fill="#ff4f49" clip-path="url(#clip_p4)"/>
<path d="M583.3 564.1 A48.8 20.8 0 0 0 680.9 564.1" fill="none" stroke="#ffd0cc" stroke-opacity="0.8" stroke-width="0.6"/>
<path d="M632.1 563.8 L609.52 585.68 L649.79 585.48 Z" fill="#8e2624"/>
<path d="M632.1 563.8 L609.52 585.68 L631.5 569.1 Z" fill="#ff6a66" stroke="#ffe3e0" stroke-width="0.5"/>
<path d="M609.72 586.28 A48.8 20.8 0 0 0 628.36 588.54 L628.36 598.74 A48.8 20.8 0 0 1 609.72 596.48 Z" fill="#176dab" stroke="#fff" stroke-opacity="0.7" stroke-width="0.5" stroke-linejoin="round"/>
<path d="M628.36 588.54 L609.72 596.48 L628.36 598.74 Z" fill="#fff" fill-opacity="0.08"/>
<path d="M629.04 588.56 A48.8 20.8 0 0 0 631.5 588.6 L631.5 598.8 A48.8 20.8 0 0 1 629.04 598.76 Z" fill="#2b8a58" stroke="#fff" stroke-opacity="0.7" stroke-width="0.5" stroke-linejoin="round"/>
<path d="M632.44 588.6 A48.8 20.8 0 0 0 649.19 587.28 L649.19 597.48 A48.8 20.8 0 0 1 632.44 598.8 Z" fill="#9a660c" stroke="#fff" stroke-opacity="0.7" stroke-width="0.5" stroke-linejoin="round"/>
<path d="M632.44 588.6 L649.19 587.28 L649.19 597.48 Z" fill="#000" fill-opacity="0.16"/>
<path d="M631.05 568.5 L628.7 588.55 L628.7 598.75" fill="none" stroke="#fff" stroke-opacity="0.92" stroke-width="0.86"/>
<path d="M632 568.9 L631.97 588.6 L631.97 598.8" fill="none" stroke="#fff" stroke-opacity="0.92" stroke-width="0.99"/>
<path d="M630.7 568.5 L609.72 586.28 A48.8 20.8 0 0 0 628.36 588.54 Z" fill="#1f9df0" stroke="#fff" stroke-opacity="0.7" stroke-width="0.5" stroke-linejoin="round"/>
<path d="M630.7 570.5 L609.72 586.28 L619.04 587.41 Z" fill="#fff" fill-opacity="0.06"/>
<path d="M631.4 568.9 L629.04 588.56 A48.8 20.8 0 0 0 631.5 588.6 Z" fill="#3ec47f" stroke="#fff" stroke-opacity="0.7" stroke-width="0.5" stroke-linejoin="round"/>
<path d="M632.6 568.9 L632.44 588.6 A48.8 20.8 0 0 0 649.19 587.28 Z" fill="#ffab12" stroke="#fff" stroke-opacity="0.7" stroke-width="0.5" stroke-linejoin="round"/>
<path d="M632.9 570.4 L648.89 587.08 L632.92 580.75 Z" fill="#e2930c" fill-opacity="0.85"/>
<text transform="translate(632.8 554) skewX(0.06) scale(0.1 0.1)" font-size="80.5" text-anchor="middle" fill="#fff" fill-opacity="0.9" stroke="#fff" stroke-opacity="0.9" stroke-width="0.5">FeSb−N−C</text>
<text transform="translate(652.6 569.5) skewX(0.06) scale(0.1 0.1)" font-size="69" text-anchor="start" fill="#1a0000" stroke="#1a0000" stroke-width="2">82.7%</text>
</svg>
</body>
</html>
